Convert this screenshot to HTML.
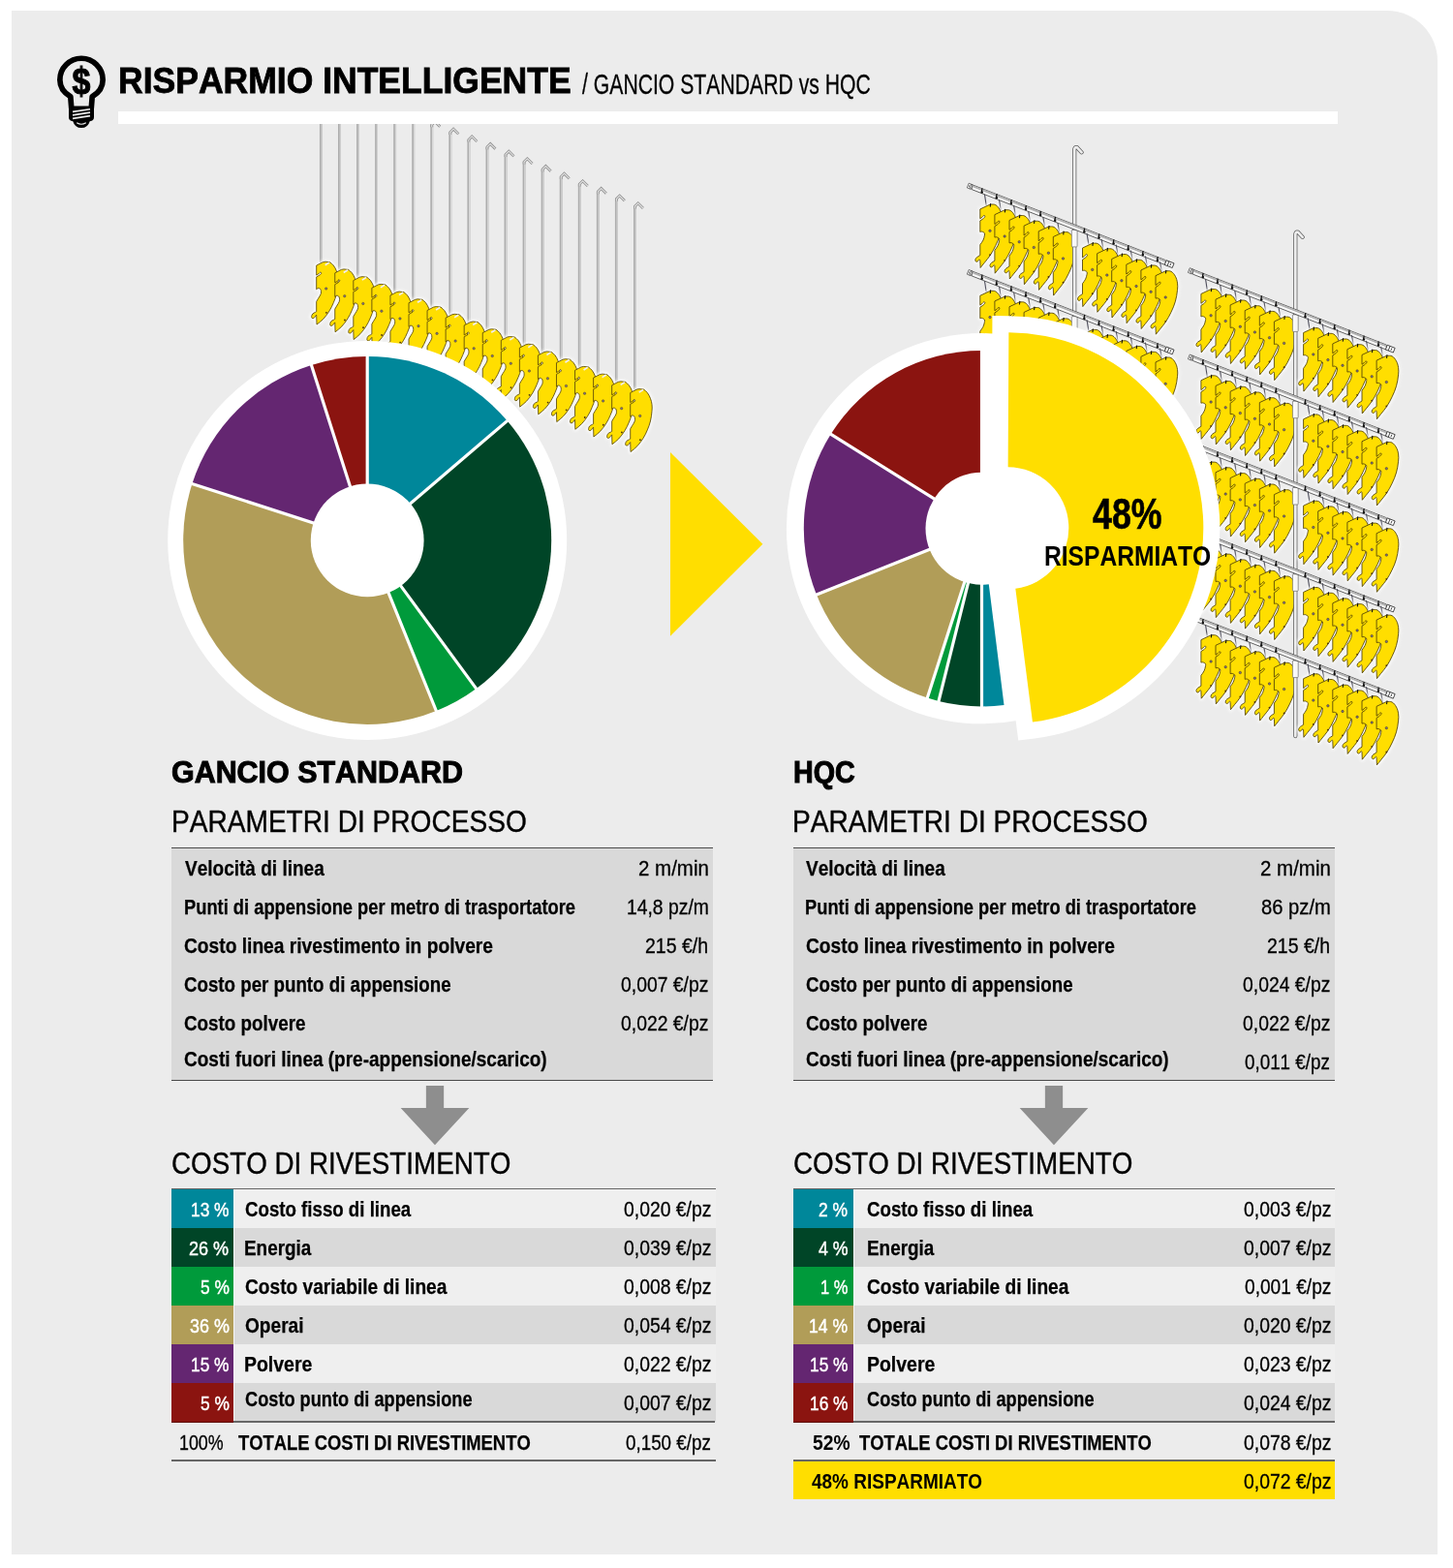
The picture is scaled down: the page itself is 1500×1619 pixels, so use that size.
<!DOCTYPE html>
<html lang="it"><head><meta charset="utf-8"><title>Risparmio intelligente / Gancio standard vs HQC</title>
<style>
html,body{margin:0;padding:0;background:#fff}
body{width:1500px;height:1619px;position:relative;overflow:hidden;font-family:"Liberation Sans",sans-serif;color:#000;font-kerning:none}
#panel{position:absolute;left:11.6px;top:10.8px;width:1472.6px;height:1594.4px;background:#ececec;border-top-right-radius:52px}
#art{position:absolute;left:0;top:0}
.t{position:absolute;white-space:pre;line-height:1;transform-origin:0 0;display:block}
.b{font-weight:700}.r{font-weight:400}
#bar{position:absolute;left:122px;top:114.5px;width:1259px;height:13.5px;background:#fff}
.pbox{position:absolute;background:#d9d9d9;border-top:1.4px solid #4a4a4a;border-bottom:1.6px solid #4a4a4a;box-sizing:border-box}
.ln{position:absolute;height:1.5px;background:#666}
.row{position:absolute}
.row i{position:absolute;left:0;top:0;height:100%;border-right:1.6px solid #f6f6f6}
.arr{position:absolute}
.sv{position:absolute;background:#ffde00}
</style></head><body>
<div id="panel"></div>
<svg id="art" width="1500" height="1619" viewBox="0 0 1500 1619">
<defs>
<filter id="hb" x="-5%" y="-5%" width="110%" height="110%"><feGaussianBlur stdDeviation="1.600"/></filter>
<path id="pth" d="M0 3.9L6.6 0.5L9.2 0L13.9 0.5C15.12 1.62 16.52 2.45 17.6 3.9C19.01 5.8 19.84 7.49 20.7 9.7C21.55 11.88 22.02 13.68 22.3 16C22.6 18.43 22.52 20.36 22.3 22.8C21.95 26.64 21.6 29.65 20.7 33.4C19.91 36.7 18.92 39.17 17.6 42.3C16.29 45.41 15.19 47.83 13.4 50.7C11.4 53.91 9.66 56.32 7.1 59.1C4.92 61.46 2.54 62.99 0.3 64.9L0 55C-0.43 55.49 -0.85 55.94 -1.3 56.5C-1.72 57.02 -1.82 57.67 -2.4 58C-3.07 58.37 -3.84 58.68 -4.5 58.3C-5.08 57.96 -5.09 57.17 -5 56.5C-4.86 55.46 -4.59 54.59 -3.9 53.8C-3.19 52.99 -2.23 52.85 -1.3 52.3C-0.83 52.02 -0.43 51.76 0 51.5L0 41.2C0.59 40.18 1.16 39.22 1.8 38.1C2.78 36.41 3.83 35.23 4.5 33.4C4.9 32.32 4.83 31.35 4.7 30.2C4.61 29.4 4.47 28.67 3.9 28.1C3.33 27.53 2.6 27.2 1.8 27.3C1.01 27.4 0.59 28.17 0 28.6L0 15.7C0.73 15.3 1.42 14.95 2.2 14.5C2.79 14.16 3.26 13.91 3.8 13.5C4.2 13.19 4.56 12.95 4.8 12.5C4.98 12.15 5.06 11.76 4.9 11.4C4.76 11.09 4.44 10.88 4.1 10.9C3.71 10.92 3.49 11.25 3.2 11.5C2.7 11.93 2.43 12.4 1.9 12.8C1.27 13.27 0.63 13.54 0 13.9L0 3.9Z" fill="#fff" stroke="#fff" stroke-width="4" stroke-linejoin="round"/>
<g id="pt"><path d="M0 3.9L6.6 0.5L9.2 0L13.9 0.5C15.12 1.62 16.52 2.45 17.6 3.9C19.01 5.8 19.84 7.49 20.7 9.7C21.55 11.88 22.02 13.68 22.3 16C22.6 18.43 22.52 20.36 22.3 22.8C21.95 26.64 21.6 29.65 20.7 33.4C19.91 36.7 18.92 39.17 17.6 42.3C16.29 45.41 15.19 47.83 13.4 50.7C11.4 53.91 9.66 56.32 7.1 59.1C4.92 61.46 2.54 62.99 0.3 64.9L0 55C-0.43 55.49 -0.85 55.94 -1.3 56.5C-1.72 57.02 -1.82 57.67 -2.4 58C-3.07 58.37 -3.84 58.68 -4.5 58.3C-5.08 57.96 -5.09 57.17 -5 56.5C-4.86 55.46 -4.59 54.59 -3.9 53.8C-3.19 52.99 -2.23 52.85 -1.3 52.3C-0.83 52.02 -0.43 51.76 0 51.5L0 41.2C0.59 40.18 1.16 39.22 1.8 38.1C2.78 36.41 3.83 35.23 4.5 33.4C4.9 32.32 4.83 31.35 4.7 30.2C4.61 29.4 4.47 28.67 3.9 28.1C3.33 27.53 2.6 27.2 1.8 27.3C1.01 27.4 0.59 28.17 0 28.6L0 15.7C0.73 15.3 1.42 14.95 2.2 14.5C2.79 14.16 3.26 13.91 3.8 13.5C4.2 13.19 4.56 12.95 4.8 12.5C4.98 12.15 5.06 11.76 4.9 11.4C4.76 11.09 4.44 10.88 4.1 10.9C3.71 10.92 3.49 11.25 3.2 11.5C2.7 11.93 2.43 12.4 1.9 12.8C1.27 13.27 0.63 13.54 0 13.9L0 3.9Z" fill="#ffde00" stroke="#574708" stroke-width=".85" stroke-linejoin="round"/><circle cx="10" cy="27.800" r="1.250" fill="#7d6f86" stroke="#574708" stroke-width=".45"/><circle cx="10.2" cy="52.6" r=".9" fill="#4a3010"/><path d="M9 3.500l4.200 -2.600" stroke="#efecf6" stroke-width="1.700"/></g>
<path id="p2h" d="M0 5.25L10.5 0.3C12.31 0.5 14.27 -0.08 16 0.9C18.09 2.08 19.24 3.8 20.4 5.9C21.64 8.14 22.12 10.17 22.5 12.7C22.89 15.3 22.79 17.39 22.5 20C22.03 24.29 21.58 27.65 20.4 31.8C19.23 35.94 17.83 39.01 16 42.9C14.26 46.59 12.73 49.39 10.5 52.8C8.51 55.85 6.55 57.93 4.3 60.8C2.88 62.61 1.62 64.15 0.3 65.8L0 58.4C-0.2 58 -0.12 57.15 -0.6 57.2C-1.28 57.27 -1.36 58.18 -1.9 58.6C-2.49 59.05 -2.96 59.65 -3.7 59.6C-4.31 59.56 -4.8 59 -4.9 58.4C-5.05 57.49 -4.82 56.66 -4.3 55.9C-3.68 54.99 -2.79 54.64 -1.9 54C-1.24 53.53 -0.63 53.2 0 52.8L0 42C1.02 40.48 2.24 39.2 3.1 37.4C3.91 35.71 4.23 34.24 4.6 32.4C4.77 31.55 4.95 30.79 4.6 30C4.34 29.41 3.66 29.33 3.1 29C2.68 28.75 2.38 28.45 1.9 28.4C1.21 28.33 0.63 28.6 0 28.7L0 17.2C0.83 16.67 1.64 16.24 2.5 15.6C3.2 15.08 3.73 14.66 4.3 14C4.65 13.6 4.93 13.23 5 12.7C5.05 12.35 4.92 11.96 4.6 11.8C4.27 11.64 3.9 11.79 3.6 12C2.93 12.46 2.62 13.07 2 13.6C1.32 14.19 0.66 14.61 0 15.1L0 5.25Z" fill="#fff" stroke="#fff" stroke-width="4" stroke-linejoin="round"/>
<g id="p2"><path d="M0 5.25L10.5 0.3C12.31 0.5 14.27 -0.08 16 0.9C18.09 2.08 19.24 3.8 20.4 5.9C21.64 8.14 22.12 10.17 22.5 12.7C22.89 15.3 22.79 17.39 22.5 20C22.03 24.29 21.58 27.65 20.4 31.8C19.23 35.94 17.83 39.01 16 42.9C14.26 46.59 12.73 49.39 10.5 52.8C8.51 55.85 6.55 57.93 4.3 60.8C2.88 62.61 1.62 64.15 0.3 65.8L0 58.4C-0.2 58 -0.12 57.15 -0.6 57.2C-1.28 57.27 -1.36 58.18 -1.9 58.6C-2.49 59.05 -2.96 59.65 -3.7 59.6C-4.31 59.56 -4.8 59 -4.9 58.4C-5.05 57.49 -4.82 56.66 -4.3 55.9C-3.68 54.99 -2.79 54.64 -1.9 54C-1.24 53.53 -0.63 53.2 0 52.8L0 42C1.02 40.48 2.24 39.2 3.1 37.4C3.91 35.71 4.23 34.24 4.6 32.4C4.77 31.55 4.95 30.79 4.6 30C4.34 29.41 3.66 29.33 3.1 29C2.68 28.75 2.38 28.45 1.9 28.4C1.21 28.33 0.63 28.6 0 28.7L0 17.2C0.83 16.67 1.64 16.24 2.5 15.6C3.2 15.08 3.73 14.66 4.3 14C4.65 13.6 4.93 13.23 5 12.7C5.05 12.35 4.92 11.96 4.6 11.8C4.27 11.64 3.9 11.79 3.6 12C2.93 12.46 2.62 13.07 2 13.6C1.32 14.19 0.66 14.61 0 15.1L0 5.25Z" fill="#ffde00" stroke="#4d3f06" stroke-width=".85" stroke-linejoin="round"/><circle cx="10.200" cy="27.600" r="1.250" fill="#7d6f86" stroke="#3a3010" stroke-width=".45"/><circle cx="10.2" cy="52.4" r=".9" fill="#4a3010"/><path d="M10.9 -.6l-.5 3.600" stroke="#111" stroke-width="1.100"/></g>
<g id="cap"><path d="M0 -2.500h8.500v5h-8.500z" fill="#fff" stroke="#333" stroke-width=".8"/><path d="M3 -2.500v5M5.500 -1.300v2.600" stroke="#333" stroke-width=".8" fill="none"/></g>
</defs>
<clipPath id="cl"><rect x="0" y="127" width="1500" height="1500"/></clipPath>
<g clip-path="url(#cl)">
<g id="std-hooks">
<path d="M331.40 271.2V82.9" fill="none" stroke="#adadad" stroke-width="2.900"/>
<path d="M331.40 271.2V82.9" fill="none" stroke="#d9d9d9" stroke-width="1.100" transform="translate(.7 0)"/>
<path d="M331.40 85.3V82.9L334.70 79.6L339.90 84.8" fill="none" stroke="#8c8c8c" stroke-width="2.700" stroke-linejoin="miter"/>
<path d="M331.40 85.3V82.9L334.70 79.6L339.90 84.8" fill="none" stroke="#e2e2e2" stroke-width="1.200"/>
<path d="M350.46 278.9V90.5" fill="none" stroke="#adadad" stroke-width="2.900"/>
<path d="M350.46 278.9V90.5" fill="none" stroke="#d9d9d9" stroke-width="1.100" transform="translate(.7 0)"/>
<path d="M350.46 92.9V90.5L353.76 87.2L358.96 92.4" fill="none" stroke="#8c8c8c" stroke-width="2.700" stroke-linejoin="miter"/>
<path d="M350.46 92.9V90.5L353.76 87.2L358.96 92.4" fill="none" stroke="#e2e2e2" stroke-width="1.200"/>
<path d="M369.52 286.7V98.2" fill="none" stroke="#adadad" stroke-width="2.900"/>
<path d="M369.52 286.7V98.2" fill="none" stroke="#d9d9d9" stroke-width="1.100" transform="translate(.7 0)"/>
<path d="M369.52 100.6V98.2L372.82 94.9L378.02 100.1" fill="none" stroke="#8c8c8c" stroke-width="2.700" stroke-linejoin="miter"/>
<path d="M369.52 100.6V98.2L372.82 94.9L378.02 100.1" fill="none" stroke="#e2e2e2" stroke-width="1.200"/>
<path d="M388.58 294.4V105.9" fill="none" stroke="#adadad" stroke-width="2.900"/>
<path d="M388.58 294.4V105.9" fill="none" stroke="#d9d9d9" stroke-width="1.100" transform="translate(.7 0)"/>
<path d="M388.58 108.3V105.9L391.88 102.6L397.08 107.8" fill="none" stroke="#8c8c8c" stroke-width="2.700" stroke-linejoin="miter"/>
<path d="M388.58 108.3V105.9L391.88 102.6L397.08 107.8" fill="none" stroke="#e2e2e2" stroke-width="1.200"/>
<path d="M407.64 302.1V113.5" fill="none" stroke="#adadad" stroke-width="2.900"/>
<path d="M407.64 302.1V113.5" fill="none" stroke="#d9d9d9" stroke-width="1.100" transform="translate(.7 0)"/>
<path d="M407.64 115.9V113.5L410.94 110.2L416.14 115.4" fill="none" stroke="#8c8c8c" stroke-width="2.700" stroke-linejoin="miter"/>
<path d="M407.64 115.9V113.5L410.94 110.2L416.14 115.4" fill="none" stroke="#e2e2e2" stroke-width="1.200"/>
<path d="M426.70 309.8V121.2" fill="none" stroke="#adadad" stroke-width="2.900"/>
<path d="M426.70 309.8V121.2" fill="none" stroke="#d9d9d9" stroke-width="1.100" transform="translate(.7 0)"/>
<path d="M426.70 123.6V121.2L430.00 117.9L435.20 123.1" fill="none" stroke="#8c8c8c" stroke-width="2.700" stroke-linejoin="miter"/>
<path d="M426.70 123.6V121.2L430.00 117.9L435.20 123.1" fill="none" stroke="#e2e2e2" stroke-width="1.200"/>
<path d="M445.76 317.6V128.8" fill="none" stroke="#adadad" stroke-width="2.900"/>
<path d="M445.76 317.6V128.8" fill="none" stroke="#d9d9d9" stroke-width="1.100" transform="translate(.7 0)"/>
<path d="M445.76 131.2V128.8L449.06 125.5L454.26 130.7" fill="none" stroke="#8c8c8c" stroke-width="2.700" stroke-linejoin="miter"/>
<path d="M445.76 131.2V128.8L449.06 125.5L454.26 130.7" fill="none" stroke="#e2e2e2" stroke-width="1.200"/>
<path d="M464.82 325.3V136.5" fill="none" stroke="#adadad" stroke-width="2.900"/>
<path d="M464.82 325.3V136.5" fill="none" stroke="#d9d9d9" stroke-width="1.100" transform="translate(.7 0)"/>
<path d="M464.82 138.9V136.5L468.12 133.2L473.32 138.4" fill="none" stroke="#8c8c8c" stroke-width="2.700" stroke-linejoin="miter"/>
<path d="M464.82 138.9V136.5L468.12 133.2L473.32 138.4" fill="none" stroke="#e2e2e2" stroke-width="1.200"/>
<path d="M483.88 333.0V144.2" fill="none" stroke="#adadad" stroke-width="2.900"/>
<path d="M483.88 333.0V144.2" fill="none" stroke="#d9d9d9" stroke-width="1.100" transform="translate(.7 0)"/>
<path d="M483.88 146.6V144.2L487.18 140.9L492.38 146.1" fill="none" stroke="#8c8c8c" stroke-width="2.700" stroke-linejoin="miter"/>
<path d="M483.88 146.6V144.2L487.18 140.9L492.38 146.1" fill="none" stroke="#e2e2e2" stroke-width="1.200"/>
<path d="M502.94 340.8V151.8" fill="none" stroke="#adadad" stroke-width="2.900"/>
<path d="M502.94 340.8V151.8" fill="none" stroke="#d9d9d9" stroke-width="1.100" transform="translate(.7 0)"/>
<path d="M502.94 154.2V151.8L506.24 148.5L511.44 153.7" fill="none" stroke="#8c8c8c" stroke-width="2.700" stroke-linejoin="miter"/>
<path d="M502.94 154.2V151.8L506.24 148.5L511.44 153.7" fill="none" stroke="#e2e2e2" stroke-width="1.200"/>
<path d="M522.00 348.5V159.5" fill="none" stroke="#adadad" stroke-width="2.900"/>
<path d="M522.00 348.5V159.5" fill="none" stroke="#d9d9d9" stroke-width="1.100" transform="translate(.7 0)"/>
<path d="M522.00 161.9V159.5L525.30 156.2L530.50 161.4" fill="none" stroke="#8c8c8c" stroke-width="2.700" stroke-linejoin="miter"/>
<path d="M522.00 161.9V159.5L525.30 156.2L530.50 161.4" fill="none" stroke="#e2e2e2" stroke-width="1.200"/>
<path d="M541.06 356.2V167.1" fill="none" stroke="#adadad" stroke-width="2.900"/>
<path d="M541.06 356.2V167.1" fill="none" stroke="#d9d9d9" stroke-width="1.100" transform="translate(.7 0)"/>
<path d="M541.06 169.5V167.1L544.36 163.8L549.56 169.0" fill="none" stroke="#8c8c8c" stroke-width="2.700" stroke-linejoin="miter"/>
<path d="M541.06 169.5V167.1L544.36 163.8L549.56 169.0" fill="none" stroke="#e2e2e2" stroke-width="1.200"/>
<path d="M560.12 364.0V174.8" fill="none" stroke="#adadad" stroke-width="2.900"/>
<path d="M560.12 364.0V174.8" fill="none" stroke="#d9d9d9" stroke-width="1.100" transform="translate(.7 0)"/>
<path d="M560.12 177.2V174.8L563.42 171.5L568.62 176.7" fill="none" stroke="#8c8c8c" stroke-width="2.700" stroke-linejoin="miter"/>
<path d="M560.12 177.2V174.8L563.42 171.5L568.62 176.7" fill="none" stroke="#e2e2e2" stroke-width="1.200"/>
<path d="M579.18 371.7V182.5" fill="none" stroke="#adadad" stroke-width="2.900"/>
<path d="M579.18 371.7V182.5" fill="none" stroke="#d9d9d9" stroke-width="1.100" transform="translate(.7 0)"/>
<path d="M579.18 184.9V182.5L582.48 179.2L587.68 184.4" fill="none" stroke="#8c8c8c" stroke-width="2.700" stroke-linejoin="miter"/>
<path d="M579.18 184.9V182.5L582.48 179.2L587.68 184.4" fill="none" stroke="#e2e2e2" stroke-width="1.200"/>
<path d="M598.24 379.4V190.1" fill="none" stroke="#adadad" stroke-width="2.900"/>
<path d="M598.24 379.4V190.1" fill="none" stroke="#d9d9d9" stroke-width="1.100" transform="translate(.7 0)"/>
<path d="M598.24 192.5V190.1L601.54 186.8L606.74 192.0" fill="none" stroke="#8c8c8c" stroke-width="2.700" stroke-linejoin="miter"/>
<path d="M598.24 192.5V190.1L601.54 186.8L606.74 192.0" fill="none" stroke="#e2e2e2" stroke-width="1.200"/>
<path d="M617.30 387.1V197.8" fill="none" stroke="#adadad" stroke-width="2.900"/>
<path d="M617.30 387.1V197.8" fill="none" stroke="#d9d9d9" stroke-width="1.100" transform="translate(.7 0)"/>
<path d="M617.30 200.2V197.8L620.60 194.5L625.80 199.7" fill="none" stroke="#8c8c8c" stroke-width="2.700" stroke-linejoin="miter"/>
<path d="M617.30 200.2V197.8L620.60 194.5L625.80 199.7" fill="none" stroke="#e2e2e2" stroke-width="1.200"/>
<path d="M636.36 394.9V205.4" fill="none" stroke="#adadad" stroke-width="2.900"/>
<path d="M636.36 394.9V205.4" fill="none" stroke="#d9d9d9" stroke-width="1.100" transform="translate(.7 0)"/>
<path d="M636.36 207.8V205.4L639.66 202.1L644.86 207.3" fill="none" stroke="#8c8c8c" stroke-width="2.700" stroke-linejoin="miter"/>
<path d="M636.36 207.8V205.4L639.66 202.1L644.86 207.3" fill="none" stroke="#e2e2e2" stroke-width="1.200"/>
<path d="M655.42 402.6V213.1" fill="none" stroke="#adadad" stroke-width="2.900"/>
<path d="M655.42 402.6V213.1" fill="none" stroke="#d9d9d9" stroke-width="1.100" transform="translate(.7 0)"/>
<path d="M655.42 215.5V213.1L658.72 209.8L663.92 215.0" fill="none" stroke="#8c8c8c" stroke-width="2.700" stroke-linejoin="miter"/>
<path d="M655.42 215.5V213.1L658.72 209.8L663.92 215.0" fill="none" stroke="#e2e2e2" stroke-width="1.200"/>
<g filter="url(#hb)" opacity=".8">
<use href="#pth" x="326.70" y="270.19"/>
<use href="#pth" x="345.76" y="277.92"/>
<use href="#pth" x="364.82" y="285.65"/>
<use href="#pth" x="383.88" y="293.38"/>
<use href="#pth" x="402.94" y="301.11"/>
<use href="#pth" x="422.00" y="308.84"/>
<use href="#pth" x="441.06" y="316.57"/>
<use href="#pth" x="460.12" y="324.30"/>
<use href="#pth" x="479.18" y="332.03"/>
<use href="#pth" x="498.24" y="339.76"/>
<use href="#pth" x="517.30" y="347.49"/>
<use href="#pth" x="536.36" y="355.22"/>
<use href="#pth" x="555.42" y="362.95"/>
<use href="#pth" x="574.48" y="370.68"/>
<use href="#pth" x="593.54" y="378.41"/>
<use href="#pth" x="612.60" y="386.14"/>
<use href="#pth" x="631.66" y="393.87"/>
<use href="#pth" x="650.72" y="401.60"/>
</g>
<use href="#pt" x="326.70" y="270.19"/>
<use href="#pt" x="345.76" y="277.92"/>
<use href="#pt" x="364.82" y="285.65"/>
<use href="#pt" x="383.88" y="293.38"/>
<use href="#pt" x="402.94" y="301.11"/>
<use href="#pt" x="422.00" y="308.84"/>
<use href="#pt" x="441.06" y="316.57"/>
<use href="#pt" x="460.12" y="324.30"/>
<use href="#pt" x="479.18" y="332.03"/>
<use href="#pt" x="498.24" y="339.76"/>
<use href="#pt" x="517.30" y="347.49"/>
<use href="#pt" x="536.36" y="355.22"/>
<use href="#pt" x="555.42" y="362.95"/>
<use href="#pt" x="574.48" y="370.68"/>
<use href="#pt" x="593.54" y="378.41"/>
<use href="#pt" x="612.60" y="386.14"/>
<use href="#pt" x="631.66" y="393.87"/>
<use href="#pt" x="650.72" y="401.60"/>
</g>
</g>
<g id="rack-a">
<path d="M1016.3 199.7L1018.2 212.2" stroke="#4e4e5c" stroke-width="1.100"/>
<path d="M1031.4 205.5L1033.3 217.9" stroke="#4e4e5c" stroke-width="1.100"/>
<path d="M1046.5 211.4L1048.4 223.7" stroke="#4e4e5c" stroke-width="1.100"/>
<path d="M1061.6 217.3L1063.5 229.4" stroke="#4e4e5c" stroke-width="1.100"/>
<path d="M1076.7 223.2L1078.6 235.1" stroke="#4e4e5c" stroke-width="1.100"/>
<path d="M1091.8 229.1L1093.7 240.8" stroke="#4e4e5c" stroke-width="1.100"/>
<g filter="url(#hb)" opacity=".8">
<use href="#p2h" x="1011.8" y="210.7"/>
<use href="#p2h" x="1026.9" y="216.4"/>
<use href="#p2h" x="1042.0" y="222.2"/>
<use href="#p2h" x="1057.1" y="227.9"/>
<use href="#p2h" x="1072.2" y="233.6"/>
<use href="#p2h" x="1087.3" y="239.3"/>
</g>
<use href="#p2" x="1011.8" y="210.7"/>
<use href="#p2" x="1026.9" y="216.4"/>
<use href="#p2" x="1042.0" y="222.2"/>
<use href="#p2" x="1057.1" y="227.9"/>
<use href="#p2" x="1072.2" y="233.6"/>
<use href="#p2" x="1087.3" y="239.3"/>
<path d="M1016.3 289.0L1018.2 301.5" stroke="#4e4e5c" stroke-width="1.100"/>
<path d="M1031.4 294.8L1033.3 307.2" stroke="#4e4e5c" stroke-width="1.100"/>
<path d="M1046.5 300.7L1048.4 313.0" stroke="#4e4e5c" stroke-width="1.100"/>
<path d="M1061.6 306.6L1063.5 318.7" stroke="#4e4e5c" stroke-width="1.100"/>
<path d="M1076.7 312.5L1078.6 324.4" stroke="#4e4e5c" stroke-width="1.100"/>
<path d="M1091.8 318.4L1093.7 330.1" stroke="#4e4e5c" stroke-width="1.100"/>
<g filter="url(#hb)" opacity=".8">
<use href="#p2h" x="1011.8" y="300.0"/>
<use href="#p2h" x="1026.9" y="305.7"/>
<use href="#p2h" x="1042.0" y="311.5"/>
<use href="#p2h" x="1057.1" y="317.2"/>
<use href="#p2h" x="1072.2" y="322.9"/>
<use href="#p2h" x="1087.3" y="328.6"/>
</g>
<use href="#p2" x="1011.8" y="300.0"/>
<use href="#p2" x="1026.9" y="305.7"/>
<use href="#p2" x="1042.0" y="311.5"/>
<use href="#p2" x="1057.1" y="317.2"/>
<use href="#p2" x="1072.2" y="322.9"/>
<use href="#p2" x="1087.3" y="328.6"/>
<path d="M1016.3 378.3L1018.2 390.8" stroke="#4e4e5c" stroke-width="1.100"/>
<path d="M1031.4 384.1L1033.3 396.5" stroke="#4e4e5c" stroke-width="1.100"/>
<path d="M1046.5 390.0L1048.4 402.3" stroke="#4e4e5c" stroke-width="1.100"/>
<path d="M1061.6 395.9L1063.5 408.0" stroke="#4e4e5c" stroke-width="1.100"/>
<path d="M1076.7 401.8L1078.6 413.7" stroke="#4e4e5c" stroke-width="1.100"/>
<path d="M1091.8 407.7L1093.7 419.4" stroke="#4e4e5c" stroke-width="1.100"/>
<g filter="url(#hb)" opacity=".8">
<use href="#p2h" x="1011.8" y="389.3"/>
<use href="#p2h" x="1026.9" y="395.0"/>
<use href="#p2h" x="1042.0" y="400.8"/>
<use href="#p2h" x="1057.1" y="406.5"/>
<use href="#p2h" x="1072.2" y="412.2"/>
<use href="#p2h" x="1087.3" y="417.9"/>
</g>
<use href="#p2" x="1011.8" y="389.3"/>
<use href="#p2" x="1026.9" y="395.0"/>
<use href="#p2" x="1042.0" y="400.8"/>
<use href="#p2" x="1057.1" y="406.5"/>
<use href="#p2" x="1072.2" y="412.2"/>
<use href="#p2" x="1087.3" y="417.9"/>
<path d="M1016.3 467.6L1018.2 480.1" stroke="#4e4e5c" stroke-width="1.100"/>
<path d="M1031.4 473.4L1033.3 485.8" stroke="#4e4e5c" stroke-width="1.100"/>
<path d="M1046.5 479.3L1048.4 491.6" stroke="#4e4e5c" stroke-width="1.100"/>
<path d="M1061.6 485.2L1063.5 497.3" stroke="#4e4e5c" stroke-width="1.100"/>
<path d="M1076.7 491.1L1078.6 503.0" stroke="#4e4e5c" stroke-width="1.100"/>
<path d="M1091.8 497.0L1093.7 508.7" stroke="#4e4e5c" stroke-width="1.100"/>
<g filter="url(#hb)" opacity=".8">
<use href="#p2h" x="1011.8" y="478.6"/>
<use href="#p2h" x="1026.9" y="484.3"/>
<use href="#p2h" x="1042.0" y="490.1"/>
<use href="#p2h" x="1057.1" y="495.8"/>
<use href="#p2h" x="1072.2" y="501.5"/>
<use href="#p2h" x="1087.3" y="507.2"/>
</g>
<use href="#p2" x="1011.8" y="478.6"/>
<use href="#p2" x="1026.9" y="484.3"/>
<use href="#p2" x="1042.0" y="490.1"/>
<use href="#p2" x="1057.1" y="495.8"/>
<use href="#p2" x="1072.2" y="501.5"/>
<use href="#p2" x="1087.3" y="507.2"/>
<path d="M1109.2 583.3V154.9q0 -3.600 2.800 -2.600l4.600 5" fill="none" stroke="#5c5c5c" stroke-width="4.200" stroke-linecap="round" stroke-linejoin="round"/>
<path d="M1109.2 583.3V154.9q0 -3.600 2.800 -2.600l4.600 5" fill="none" stroke="#ededed" stroke-width="2.700" stroke-linecap="round" stroke-linejoin="round"/>
<rect x="1106.3" y="237.4" width="5.800" height="17.500" rx=".8" fill="#f8f8f8" stroke="#6a6a6a" stroke-width=".7"/>
<rect x="1106.3" y="326.7" width="5.800" height="17.500" rx=".8" fill="#f8f8f8" stroke="#6a6a6a" stroke-width=".7"/>
<rect x="1106.3" y="416.0" width="5.800" height="17.500" rx=".8" fill="#f8f8f8" stroke="#6a6a6a" stroke-width=".7"/>
<rect x="1106.3" y="505.3" width="5.800" height="17.500" rx=".8" fill="#f8f8f8" stroke="#6a6a6a" stroke-width=".7"/>
<path d="M1003.2 190.6L1203.2 268.6v5L1003.2 195.6Z" fill="#fbfbfb" stroke="#3c3c3c" stroke-width=".8"/>
<path d="M1003.2 191.9L1203.2 269.9" stroke="#b4b4b4" stroke-width="1.900"/>
<use href="#cap" transform="translate(1203.2 271.1) rotate(21.3)"/>
<use href="#cap" transform="translate(1003.2 193.1) rotate(21.3) scale(-.5 1)"/>
<path d="M1014.0 194.4l-.6 3.600" stroke="#111" stroke-width="1.300"/><circle cx="1013.7" cy="198.4" r="1.250" fill="#111"/>
<path d="M1029.1 200.2l-.6 3.600" stroke="#111" stroke-width="1.300"/><circle cx="1028.8" cy="204.2" r="1.250" fill="#111"/>
<path d="M1044.2 206.1l-.6 3.600" stroke="#111" stroke-width="1.300"/><circle cx="1043.9" cy="210.1" r="1.250" fill="#111"/>
<path d="M1059.3 212.0l-.6 3.600" stroke="#111" stroke-width="1.300"/><circle cx="1059.0" cy="216.0" r="1.250" fill="#111"/>
<path d="M1074.4 217.9l-.6 3.600" stroke="#111" stroke-width="1.300"/><circle cx="1074.1" cy="221.9" r="1.250" fill="#111"/>
<path d="M1089.5 223.8l-.6 3.600" stroke="#111" stroke-width="1.300"/><circle cx="1089.2" cy="227.8" r="1.250" fill="#111"/>
<path d="M1119.7 235.6l-.6 3.600" stroke="#111" stroke-width="1.300"/><circle cx="1119.4" cy="239.6" r="1.250" fill="#111"/>
<path d="M1134.8 241.5l-.6 3.600" stroke="#111" stroke-width="1.300"/><circle cx="1134.5" cy="245.5" r="1.250" fill="#111"/>
<path d="M1149.9 247.4l-.6 3.600" stroke="#111" stroke-width="1.300"/><circle cx="1149.6" cy="251.4" r="1.250" fill="#111"/>
<path d="M1165.0 253.2l-.6 3.600" stroke="#111" stroke-width="1.300"/><circle cx="1164.7" cy="257.2" r="1.250" fill="#111"/>
<path d="M1180.1 259.1l-.6 3.600" stroke="#111" stroke-width="1.300"/><circle cx="1179.8" cy="263.1" r="1.250" fill="#111"/>
<path d="M1195.2 265.0l-.6 3.600" stroke="#111" stroke-width="1.300"/><circle cx="1194.9" cy="269.0" r="1.250" fill="#111"/>
<path d="M1122.0 240.9L1123.9 252.3" stroke="#4e4e5c" stroke-width="1.100"/>
<path d="M1137.1 246.8L1139.0 258.0" stroke="#4e4e5c" stroke-width="1.100"/>
<path d="M1152.2 252.7L1154.1 263.7" stroke="#4e4e5c" stroke-width="1.100"/>
<path d="M1167.3 258.5L1169.2 269.4" stroke="#4e4e5c" stroke-width="1.100"/>
<path d="M1182.4 264.4L1184.3 275.2" stroke="#4e4e5c" stroke-width="1.100"/>
<path d="M1197.5 270.3L1199.4 280.9" stroke="#4e4e5c" stroke-width="1.100"/>
<g filter="url(#hb)" opacity=".8">
<use href="#p2h" x="1117.5" y="250.8"/>
<use href="#p2h" x="1132.6" y="256.5"/>
<use href="#p2h" x="1147.7" y="262.2"/>
<use href="#p2h" x="1162.8" y="267.9"/>
<use href="#p2h" x="1177.9" y="273.7"/>
<use href="#p2h" x="1193.0" y="279.4"/>
</g>
<use href="#p2" x="1117.5" y="250.8"/>
<use href="#p2" x="1132.6" y="256.5"/>
<use href="#p2" x="1147.7" y="262.2"/>
<use href="#p2" x="1162.8" y="267.9"/>
<use href="#p2" x="1177.9" y="273.7"/>
<use href="#p2" x="1193.0" y="279.4"/>
<path d="M1003.2 279.9L1203.2 357.9v5L1003.2 284.9Z" fill="#fbfbfb" stroke="#3c3c3c" stroke-width=".8"/>
<path d="M1003.2 281.2L1203.2 359.2" stroke="#b4b4b4" stroke-width="1.900"/>
<use href="#cap" transform="translate(1203.2 360.4) rotate(21.3)"/>
<use href="#cap" transform="translate(1003.2 282.4) rotate(21.3) scale(-.5 1)"/>
<path d="M1014.0 283.7l-.6 3.600" stroke="#111" stroke-width="1.300"/><circle cx="1013.7" cy="287.7" r="1.250" fill="#111"/>
<path d="M1029.1 289.5l-.6 3.600" stroke="#111" stroke-width="1.300"/><circle cx="1028.8" cy="293.5" r="1.250" fill="#111"/>
<path d="M1044.2 295.4l-.6 3.600" stroke="#111" stroke-width="1.300"/><circle cx="1043.9" cy="299.4" r="1.250" fill="#111"/>
<path d="M1059.3 301.3l-.6 3.600" stroke="#111" stroke-width="1.300"/><circle cx="1059.0" cy="305.3" r="1.250" fill="#111"/>
<path d="M1074.4 307.2l-.6 3.600" stroke="#111" stroke-width="1.300"/><circle cx="1074.1" cy="311.2" r="1.250" fill="#111"/>
<path d="M1089.5 313.1l-.6 3.600" stroke="#111" stroke-width="1.300"/><circle cx="1089.2" cy="317.1" r="1.250" fill="#111"/>
<path d="M1119.7 324.9l-.6 3.600" stroke="#111" stroke-width="1.300"/><circle cx="1119.4" cy="328.9" r="1.250" fill="#111"/>
<path d="M1134.8 330.8l-.6 3.600" stroke="#111" stroke-width="1.300"/><circle cx="1134.5" cy="334.8" r="1.250" fill="#111"/>
<path d="M1149.9 336.7l-.6 3.600" stroke="#111" stroke-width="1.300"/><circle cx="1149.6" cy="340.7" r="1.250" fill="#111"/>
<path d="M1165.0 342.5l-.6 3.600" stroke="#111" stroke-width="1.300"/><circle cx="1164.7" cy="346.5" r="1.250" fill="#111"/>
<path d="M1180.1 348.4l-.6 3.600" stroke="#111" stroke-width="1.300"/><circle cx="1179.8" cy="352.4" r="1.250" fill="#111"/>
<path d="M1195.2 354.3l-.6 3.600" stroke="#111" stroke-width="1.300"/><circle cx="1194.9" cy="358.3" r="1.250" fill="#111"/>
<path d="M1122.0 330.2L1123.9 341.6" stroke="#4e4e5c" stroke-width="1.100"/>
<path d="M1137.1 336.1L1139.0 347.3" stroke="#4e4e5c" stroke-width="1.100"/>
<path d="M1152.2 342.0L1154.1 353.0" stroke="#4e4e5c" stroke-width="1.100"/>
<path d="M1167.3 347.8L1169.2 358.7" stroke="#4e4e5c" stroke-width="1.100"/>
<path d="M1182.4 353.7L1184.3 364.5" stroke="#4e4e5c" stroke-width="1.100"/>
<path d="M1197.5 359.6L1199.4 370.2" stroke="#4e4e5c" stroke-width="1.100"/>
<g filter="url(#hb)" opacity=".8">
<use href="#p2h" x="1117.5" y="340.1"/>
<use href="#p2h" x="1132.6" y="345.8"/>
<use href="#p2h" x="1147.7" y="351.5"/>
<use href="#p2h" x="1162.8" y="357.2"/>
<use href="#p2h" x="1177.9" y="363.0"/>
<use href="#p2h" x="1193.0" y="368.7"/>
</g>
<use href="#p2" x="1117.5" y="340.1"/>
<use href="#p2" x="1132.6" y="345.8"/>
<use href="#p2" x="1147.7" y="351.5"/>
<use href="#p2" x="1162.8" y="357.2"/>
<use href="#p2" x="1177.9" y="363.0"/>
<use href="#p2" x="1193.0" y="368.7"/>
<path d="M1003.2 369.2L1203.2 447.2v5L1003.2 374.2Z" fill="#fbfbfb" stroke="#3c3c3c" stroke-width=".8"/>
<path d="M1003.2 370.5L1203.2 448.5" stroke="#b4b4b4" stroke-width="1.900"/>
<use href="#cap" transform="translate(1203.2 449.7) rotate(21.3)"/>
<use href="#cap" transform="translate(1003.2 371.7) rotate(21.3) scale(-.5 1)"/>
<path d="M1014.0 373.0l-.6 3.600" stroke="#111" stroke-width="1.300"/><circle cx="1013.7" cy="377.0" r="1.250" fill="#111"/>
<path d="M1029.1 378.8l-.6 3.600" stroke="#111" stroke-width="1.300"/><circle cx="1028.8" cy="382.8" r="1.250" fill="#111"/>
<path d="M1044.2 384.7l-.6 3.600" stroke="#111" stroke-width="1.300"/><circle cx="1043.9" cy="388.7" r="1.250" fill="#111"/>
<path d="M1059.3 390.6l-.6 3.600" stroke="#111" stroke-width="1.300"/><circle cx="1059.0" cy="394.6" r="1.250" fill="#111"/>
<path d="M1074.4 396.5l-.6 3.600" stroke="#111" stroke-width="1.300"/><circle cx="1074.1" cy="400.5" r="1.250" fill="#111"/>
<path d="M1089.5 402.4l-.6 3.600" stroke="#111" stroke-width="1.300"/><circle cx="1089.2" cy="406.4" r="1.250" fill="#111"/>
<path d="M1119.7 414.2l-.6 3.600" stroke="#111" stroke-width="1.300"/><circle cx="1119.4" cy="418.2" r="1.250" fill="#111"/>
<path d="M1134.8 420.1l-.6 3.600" stroke="#111" stroke-width="1.300"/><circle cx="1134.5" cy="424.1" r="1.250" fill="#111"/>
<path d="M1149.9 426.0l-.6 3.600" stroke="#111" stroke-width="1.300"/><circle cx="1149.6" cy="430.0" r="1.250" fill="#111"/>
<path d="M1165.0 431.8l-.6 3.600" stroke="#111" stroke-width="1.300"/><circle cx="1164.7" cy="435.8" r="1.250" fill="#111"/>
<path d="M1180.1 437.7l-.6 3.600" stroke="#111" stroke-width="1.300"/><circle cx="1179.8" cy="441.7" r="1.250" fill="#111"/>
<path d="M1195.2 443.6l-.6 3.600" stroke="#111" stroke-width="1.300"/><circle cx="1194.9" cy="447.6" r="1.250" fill="#111"/>
<path d="M1122.0 419.5L1123.9 430.9" stroke="#4e4e5c" stroke-width="1.100"/>
<path d="M1137.1 425.4L1139.0 436.6" stroke="#4e4e5c" stroke-width="1.100"/>
<path d="M1152.2 431.3L1154.1 442.3" stroke="#4e4e5c" stroke-width="1.100"/>
<path d="M1167.3 437.1L1169.2 448.0" stroke="#4e4e5c" stroke-width="1.100"/>
<path d="M1182.4 443.0L1184.3 453.8" stroke="#4e4e5c" stroke-width="1.100"/>
<path d="M1197.5 448.9L1199.4 459.5" stroke="#4e4e5c" stroke-width="1.100"/>
<g filter="url(#hb)" opacity=".8">
<use href="#p2h" x="1117.5" y="429.4"/>
<use href="#p2h" x="1132.6" y="435.1"/>
<use href="#p2h" x="1147.7" y="440.8"/>
<use href="#p2h" x="1162.8" y="446.5"/>
<use href="#p2h" x="1177.9" y="452.3"/>
<use href="#p2h" x="1193.0" y="458.0"/>
</g>
<use href="#p2" x="1117.5" y="429.4"/>
<use href="#p2" x="1132.6" y="435.1"/>
<use href="#p2" x="1147.7" y="440.8"/>
<use href="#p2" x="1162.8" y="446.5"/>
<use href="#p2" x="1177.9" y="452.3"/>
<use href="#p2" x="1193.0" y="458.0"/>
<path d="M1003.2 458.5L1203.2 536.5v5L1003.2 463.5Z" fill="#fbfbfb" stroke="#3c3c3c" stroke-width=".8"/>
<path d="M1003.2 459.8L1203.2 537.8" stroke="#b4b4b4" stroke-width="1.900"/>
<use href="#cap" transform="translate(1203.2 539.0) rotate(21.3)"/>
<use href="#cap" transform="translate(1003.2 461.0) rotate(21.3) scale(-.5 1)"/>
<path d="M1014.0 462.3l-.6 3.600" stroke="#111" stroke-width="1.300"/><circle cx="1013.7" cy="466.3" r="1.250" fill="#111"/>
<path d="M1029.1 468.1l-.6 3.600" stroke="#111" stroke-width="1.300"/><circle cx="1028.8" cy="472.1" r="1.250" fill="#111"/>
<path d="M1044.2 474.0l-.6 3.600" stroke="#111" stroke-width="1.300"/><circle cx="1043.9" cy="478.0" r="1.250" fill="#111"/>
<path d="M1059.3 479.9l-.6 3.600" stroke="#111" stroke-width="1.300"/><circle cx="1059.0" cy="483.9" r="1.250" fill="#111"/>
<path d="M1074.4 485.8l-.6 3.600" stroke="#111" stroke-width="1.300"/><circle cx="1074.1" cy="489.8" r="1.250" fill="#111"/>
<path d="M1089.5 491.7l-.6 3.600" stroke="#111" stroke-width="1.300"/><circle cx="1089.2" cy="495.7" r="1.250" fill="#111"/>
<path d="M1119.7 503.5l-.6 3.600" stroke="#111" stroke-width="1.300"/><circle cx="1119.4" cy="507.5" r="1.250" fill="#111"/>
<path d="M1134.8 509.4l-.6 3.600" stroke="#111" stroke-width="1.300"/><circle cx="1134.5" cy="513.4" r="1.250" fill="#111"/>
<path d="M1149.9 515.3l-.6 3.600" stroke="#111" stroke-width="1.300"/><circle cx="1149.6" cy="519.3" r="1.250" fill="#111"/>
<path d="M1165.0 521.1l-.6 3.600" stroke="#111" stroke-width="1.300"/><circle cx="1164.7" cy="525.1" r="1.250" fill="#111"/>
<path d="M1180.1 527.0l-.6 3.600" stroke="#111" stroke-width="1.300"/><circle cx="1179.8" cy="531.0" r="1.250" fill="#111"/>
<path d="M1195.2 532.9l-.6 3.600" stroke="#111" stroke-width="1.300"/><circle cx="1194.9" cy="536.9" r="1.250" fill="#111"/>
<path d="M1122.0 508.8L1123.9 520.2" stroke="#4e4e5c" stroke-width="1.100"/>
<path d="M1137.1 514.7L1139.0 525.9" stroke="#4e4e5c" stroke-width="1.100"/>
<path d="M1152.2 520.6L1154.1 531.6" stroke="#4e4e5c" stroke-width="1.100"/>
<path d="M1167.3 526.4L1169.2 537.3" stroke="#4e4e5c" stroke-width="1.100"/>
<path d="M1182.4 532.3L1184.3 543.1" stroke="#4e4e5c" stroke-width="1.100"/>
<path d="M1197.5 538.2L1199.4 548.8" stroke="#4e4e5c" stroke-width="1.100"/>
<g filter="url(#hb)" opacity=".8">
<use href="#p2h" x="1117.5" y="518.7"/>
<use href="#p2h" x="1132.6" y="524.4"/>
<use href="#p2h" x="1147.7" y="530.1"/>
<use href="#p2h" x="1162.8" y="535.8"/>
<use href="#p2h" x="1177.9" y="541.6"/>
<use href="#p2h" x="1193.0" y="547.3"/>
</g>
<use href="#p2" x="1117.5" y="518.7"/>
<use href="#p2" x="1132.6" y="524.4"/>
<use href="#p2" x="1147.7" y="530.1"/>
<use href="#p2" x="1162.8" y="535.8"/>
<use href="#p2" x="1177.9" y="541.6"/>
<use href="#p2" x="1193.0" y="547.3"/>
</g>
<g id="rack-b">
<path d="M1244.4 287.2L1246.3 299.7" stroke="#4e4e5c" stroke-width="1.100"/>
<path d="M1259.5 293.0L1261.4 305.4" stroke="#4e4e5c" stroke-width="1.100"/>
<path d="M1274.6 298.9L1276.5 311.2" stroke="#4e4e5c" stroke-width="1.100"/>
<path d="M1289.7 304.8L1291.6 316.9" stroke="#4e4e5c" stroke-width="1.100"/>
<path d="M1304.8 310.7L1306.7 322.6" stroke="#4e4e5c" stroke-width="1.100"/>
<path d="M1319.9 316.6L1321.8 328.3" stroke="#4e4e5c" stroke-width="1.100"/>
<g filter="url(#hb)" opacity=".8">
<use href="#p2h" x="1239.9" y="298.2"/>
<use href="#p2h" x="1255.0" y="303.9"/>
<use href="#p2h" x="1270.1" y="309.7"/>
<use href="#p2h" x="1285.2" y="315.4"/>
<use href="#p2h" x="1300.3" y="321.1"/>
<use href="#p2h" x="1315.4" y="326.8"/>
</g>
<use href="#p2" x="1239.9" y="298.2"/>
<use href="#p2" x="1255.0" y="303.9"/>
<use href="#p2" x="1270.1" y="309.7"/>
<use href="#p2" x="1285.2" y="315.4"/>
<use href="#p2" x="1300.3" y="321.1"/>
<use href="#p2" x="1315.4" y="326.8"/>
<path d="M1244.4 376.5L1246.3 389.0" stroke="#4e4e5c" stroke-width="1.100"/>
<path d="M1259.5 382.3L1261.4 394.7" stroke="#4e4e5c" stroke-width="1.100"/>
<path d="M1274.6 388.2L1276.5 400.5" stroke="#4e4e5c" stroke-width="1.100"/>
<path d="M1289.7 394.1L1291.6 406.2" stroke="#4e4e5c" stroke-width="1.100"/>
<path d="M1304.8 400.0L1306.7 411.9" stroke="#4e4e5c" stroke-width="1.100"/>
<path d="M1319.9 405.9L1321.8 417.6" stroke="#4e4e5c" stroke-width="1.100"/>
<g filter="url(#hb)" opacity=".8">
<use href="#p2h" x="1239.9" y="387.5"/>
<use href="#p2h" x="1255.0" y="393.2"/>
<use href="#p2h" x="1270.1" y="399.0"/>
<use href="#p2h" x="1285.2" y="404.7"/>
<use href="#p2h" x="1300.3" y="410.4"/>
<use href="#p2h" x="1315.4" y="416.1"/>
</g>
<use href="#p2" x="1239.9" y="387.5"/>
<use href="#p2" x="1255.0" y="393.2"/>
<use href="#p2" x="1270.1" y="399.0"/>
<use href="#p2" x="1285.2" y="404.7"/>
<use href="#p2" x="1300.3" y="410.4"/>
<use href="#p2" x="1315.4" y="416.1"/>
<path d="M1244.4 465.8L1246.3 478.3" stroke="#4e4e5c" stroke-width="1.100"/>
<path d="M1259.5 471.6L1261.4 484.0" stroke="#4e4e5c" stroke-width="1.100"/>
<path d="M1274.6 477.5L1276.5 489.8" stroke="#4e4e5c" stroke-width="1.100"/>
<path d="M1289.7 483.4L1291.6 495.5" stroke="#4e4e5c" stroke-width="1.100"/>
<path d="M1304.8 489.3L1306.7 501.2" stroke="#4e4e5c" stroke-width="1.100"/>
<path d="M1319.9 495.2L1321.8 506.9" stroke="#4e4e5c" stroke-width="1.100"/>
<g filter="url(#hb)" opacity=".8">
<use href="#p2h" x="1239.9" y="476.8"/>
<use href="#p2h" x="1255.0" y="482.5"/>
<use href="#p2h" x="1270.1" y="488.3"/>
<use href="#p2h" x="1285.2" y="494.0"/>
<use href="#p2h" x="1300.3" y="499.7"/>
<use href="#p2h" x="1315.4" y="505.4"/>
</g>
<use href="#p2" x="1239.9" y="476.8"/>
<use href="#p2" x="1255.0" y="482.5"/>
<use href="#p2" x="1270.1" y="488.3"/>
<use href="#p2" x="1285.2" y="494.0"/>
<use href="#p2" x="1300.3" y="499.7"/>
<use href="#p2" x="1315.4" y="505.4"/>
<path d="M1244.4 555.1L1246.3 567.6" stroke="#4e4e5c" stroke-width="1.100"/>
<path d="M1259.5 560.9L1261.4 573.3" stroke="#4e4e5c" stroke-width="1.100"/>
<path d="M1274.6 566.8L1276.5 579.1" stroke="#4e4e5c" stroke-width="1.100"/>
<path d="M1289.7 572.7L1291.6 584.8" stroke="#4e4e5c" stroke-width="1.100"/>
<path d="M1304.8 578.6L1306.7 590.5" stroke="#4e4e5c" stroke-width="1.100"/>
<path d="M1319.9 584.5L1321.8 596.2" stroke="#4e4e5c" stroke-width="1.100"/>
<g filter="url(#hb)" opacity=".8">
<use href="#p2h" x="1239.9" y="566.1"/>
<use href="#p2h" x="1255.0" y="571.8"/>
<use href="#p2h" x="1270.1" y="577.6"/>
<use href="#p2h" x="1285.2" y="583.3"/>
<use href="#p2h" x="1300.3" y="589.0"/>
<use href="#p2h" x="1315.4" y="594.7"/>
</g>
<use href="#p2" x="1239.9" y="566.1"/>
<use href="#p2" x="1255.0" y="571.8"/>
<use href="#p2" x="1270.1" y="577.6"/>
<use href="#p2" x="1285.2" y="583.3"/>
<use href="#p2" x="1300.3" y="589.0"/>
<use href="#p2" x="1315.4" y="594.7"/>
<path d="M1244.4 644.4L1246.3 656.9" stroke="#4e4e5c" stroke-width="1.100"/>
<path d="M1259.5 650.2L1261.4 662.6" stroke="#4e4e5c" stroke-width="1.100"/>
<path d="M1274.6 656.1L1276.5 668.4" stroke="#4e4e5c" stroke-width="1.100"/>
<path d="M1289.7 662.0L1291.6 674.1" stroke="#4e4e5c" stroke-width="1.100"/>
<path d="M1304.8 667.9L1306.7 679.8" stroke="#4e4e5c" stroke-width="1.100"/>
<path d="M1319.9 673.8L1321.8 685.5" stroke="#4e4e5c" stroke-width="1.100"/>
<g filter="url(#hb)" opacity=".8">
<use href="#p2h" x="1239.9" y="655.4"/>
<use href="#p2h" x="1255.0" y="661.1"/>
<use href="#p2h" x="1270.1" y="666.9"/>
<use href="#p2h" x="1285.2" y="672.6"/>
<use href="#p2h" x="1300.3" y="678.3"/>
<use href="#p2h" x="1315.4" y="684.0"/>
</g>
<use href="#p2" x="1239.9" y="655.4"/>
<use href="#p2" x="1255.0" y="661.1"/>
<use href="#p2" x="1270.1" y="666.9"/>
<use href="#p2" x="1285.2" y="672.6"/>
<use href="#p2" x="1300.3" y="678.3"/>
<use href="#p2" x="1315.4" y="684.0"/>
<path d="M1337.3 760.0999999999999V242.4q0 -3.600 2.800 -2.600l4.600 5" fill="none" stroke="#5c5c5c" stroke-width="4.200" stroke-linecap="round" stroke-linejoin="round"/>
<path d="M1337.3 760.0999999999999V242.4q0 -3.600 2.800 -2.600l4.600 5" fill="none" stroke="#ededed" stroke-width="2.700" stroke-linecap="round" stroke-linejoin="round"/>
<rect x="1334.4" y="324.9" width="5.800" height="17.500" rx=".8" fill="#f8f8f8" stroke="#6a6a6a" stroke-width=".7"/>
<rect x="1334.4" y="414.2" width="5.800" height="17.500" rx=".8" fill="#f8f8f8" stroke="#6a6a6a" stroke-width=".7"/>
<rect x="1334.4" y="503.5" width="5.800" height="17.500" rx=".8" fill="#f8f8f8" stroke="#6a6a6a" stroke-width=".7"/>
<rect x="1334.4" y="592.8" width="5.800" height="17.500" rx=".8" fill="#f8f8f8" stroke="#6a6a6a" stroke-width=".7"/>
<rect x="1334.4" y="682.1" width="5.800" height="17.500" rx=".8" fill="#f8f8f8" stroke="#6a6a6a" stroke-width=".7"/>
<path d="M1231.3 278.1L1431.3 356.1v5L1231.3 283.1Z" fill="#fbfbfb" stroke="#3c3c3c" stroke-width=".8"/>
<path d="M1231.3 279.4L1431.3 357.4" stroke="#b4b4b4" stroke-width="1.900"/>
<use href="#cap" transform="translate(1431.3 358.6) rotate(21.3)"/>
<use href="#cap" transform="translate(1231.3 280.6) rotate(21.3) scale(-.5 1)"/>
<path d="M1242.1 281.9l-.6 3.600" stroke="#111" stroke-width="1.300"/><circle cx="1241.8" cy="285.9" r="1.250" fill="#111"/>
<path d="M1257.2 287.7l-.6 3.600" stroke="#111" stroke-width="1.300"/><circle cx="1256.9" cy="291.7" r="1.250" fill="#111"/>
<path d="M1272.3 293.6l-.6 3.600" stroke="#111" stroke-width="1.300"/><circle cx="1272.0" cy="297.6" r="1.250" fill="#111"/>
<path d="M1287.4 299.5l-.6 3.600" stroke="#111" stroke-width="1.300"/><circle cx="1287.1" cy="303.5" r="1.250" fill="#111"/>
<path d="M1302.5 305.4l-.6 3.600" stroke="#111" stroke-width="1.300"/><circle cx="1302.2" cy="309.4" r="1.250" fill="#111"/>
<path d="M1317.6 311.3l-.6 3.600" stroke="#111" stroke-width="1.300"/><circle cx="1317.3" cy="315.3" r="1.250" fill="#111"/>
<path d="M1347.8 323.1l-.6 3.600" stroke="#111" stroke-width="1.300"/><circle cx="1347.5" cy="327.1" r="1.250" fill="#111"/>
<path d="M1362.9 329.0l-.6 3.600" stroke="#111" stroke-width="1.300"/><circle cx="1362.6" cy="333.0" r="1.250" fill="#111"/>
<path d="M1378.0 334.9l-.6 3.600" stroke="#111" stroke-width="1.300"/><circle cx="1377.7" cy="338.9" r="1.250" fill="#111"/>
<path d="M1393.1 340.7l-.6 3.600" stroke="#111" stroke-width="1.300"/><circle cx="1392.8" cy="344.7" r="1.250" fill="#111"/>
<path d="M1408.2 346.6l-.6 3.600" stroke="#111" stroke-width="1.300"/><circle cx="1407.9" cy="350.6" r="1.250" fill="#111"/>
<path d="M1423.3 352.5l-.6 3.600" stroke="#111" stroke-width="1.300"/><circle cx="1423.0" cy="356.5" r="1.250" fill="#111"/>
<path d="M1350.1 328.4L1352.0 339.8" stroke="#4e4e5c" stroke-width="1.100"/>
<path d="M1365.2 334.3L1367.1 345.5" stroke="#4e4e5c" stroke-width="1.100"/>
<path d="M1380.3 340.2L1382.2 351.2" stroke="#4e4e5c" stroke-width="1.100"/>
<path d="M1395.4 346.0L1397.3 356.9" stroke="#4e4e5c" stroke-width="1.100"/>
<path d="M1410.5 351.9L1412.4 362.7" stroke="#4e4e5c" stroke-width="1.100"/>
<path d="M1425.6 357.8L1427.5 368.4" stroke="#4e4e5c" stroke-width="1.100"/>
<g filter="url(#hb)" opacity=".8">
<use href="#p2h" x="1345.6" y="338.3"/>
<use href="#p2h" x="1360.7" y="344.0"/>
<use href="#p2h" x="1375.8" y="349.7"/>
<use href="#p2h" x="1390.9" y="355.4"/>
<use href="#p2h" x="1406.0" y="361.2"/>
<use href="#p2h" x="1421.1" y="366.9"/>
</g>
<use href="#p2" x="1345.6" y="338.3"/>
<use href="#p2" x="1360.7" y="344.0"/>
<use href="#p2" x="1375.8" y="349.7"/>
<use href="#p2" x="1390.9" y="355.4"/>
<use href="#p2" x="1406.0" y="361.2"/>
<use href="#p2" x="1421.1" y="366.9"/>
<path d="M1231.3 367.4L1431.3 445.4v5L1231.3 372.4Z" fill="#fbfbfb" stroke="#3c3c3c" stroke-width=".8"/>
<path d="M1231.3 368.7L1431.3 446.7" stroke="#b4b4b4" stroke-width="1.900"/>
<use href="#cap" transform="translate(1431.3 447.9) rotate(21.3)"/>
<use href="#cap" transform="translate(1231.3 369.9) rotate(21.3) scale(-.5 1)"/>
<path d="M1242.1 371.2l-.6 3.600" stroke="#111" stroke-width="1.300"/><circle cx="1241.8" cy="375.2" r="1.250" fill="#111"/>
<path d="M1257.2 377.0l-.6 3.600" stroke="#111" stroke-width="1.300"/><circle cx="1256.9" cy="381.0" r="1.250" fill="#111"/>
<path d="M1272.3 382.9l-.6 3.600" stroke="#111" stroke-width="1.300"/><circle cx="1272.0" cy="386.9" r="1.250" fill="#111"/>
<path d="M1287.4 388.8l-.6 3.600" stroke="#111" stroke-width="1.300"/><circle cx="1287.1" cy="392.8" r="1.250" fill="#111"/>
<path d="M1302.5 394.7l-.6 3.600" stroke="#111" stroke-width="1.300"/><circle cx="1302.2" cy="398.7" r="1.250" fill="#111"/>
<path d="M1317.6 400.6l-.6 3.600" stroke="#111" stroke-width="1.300"/><circle cx="1317.3" cy="404.6" r="1.250" fill="#111"/>
<path d="M1347.8 412.4l-.6 3.600" stroke="#111" stroke-width="1.300"/><circle cx="1347.5" cy="416.4" r="1.250" fill="#111"/>
<path d="M1362.9 418.3l-.6 3.600" stroke="#111" stroke-width="1.300"/><circle cx="1362.6" cy="422.3" r="1.250" fill="#111"/>
<path d="M1378.0 424.2l-.6 3.600" stroke="#111" stroke-width="1.300"/><circle cx="1377.7" cy="428.2" r="1.250" fill="#111"/>
<path d="M1393.1 430.0l-.6 3.600" stroke="#111" stroke-width="1.300"/><circle cx="1392.8" cy="434.0" r="1.250" fill="#111"/>
<path d="M1408.2 435.9l-.6 3.600" stroke="#111" stroke-width="1.300"/><circle cx="1407.9" cy="439.9" r="1.250" fill="#111"/>
<path d="M1423.3 441.8l-.6 3.600" stroke="#111" stroke-width="1.300"/><circle cx="1423.0" cy="445.8" r="1.250" fill="#111"/>
<path d="M1350.1 417.7L1352.0 429.1" stroke="#4e4e5c" stroke-width="1.100"/>
<path d="M1365.2 423.6L1367.1 434.8" stroke="#4e4e5c" stroke-width="1.100"/>
<path d="M1380.3 429.5L1382.2 440.5" stroke="#4e4e5c" stroke-width="1.100"/>
<path d="M1395.4 435.3L1397.3 446.2" stroke="#4e4e5c" stroke-width="1.100"/>
<path d="M1410.5 441.2L1412.4 452.0" stroke="#4e4e5c" stroke-width="1.100"/>
<path d="M1425.6 447.1L1427.5 457.7" stroke="#4e4e5c" stroke-width="1.100"/>
<g filter="url(#hb)" opacity=".8">
<use href="#p2h" x="1345.6" y="427.6"/>
<use href="#p2h" x="1360.7" y="433.3"/>
<use href="#p2h" x="1375.8" y="439.0"/>
<use href="#p2h" x="1390.9" y="444.7"/>
<use href="#p2h" x="1406.0" y="450.5"/>
<use href="#p2h" x="1421.1" y="456.2"/>
</g>
<use href="#p2" x="1345.6" y="427.6"/>
<use href="#p2" x="1360.7" y="433.3"/>
<use href="#p2" x="1375.8" y="439.0"/>
<use href="#p2" x="1390.9" y="444.7"/>
<use href="#p2" x="1406.0" y="450.5"/>
<use href="#p2" x="1421.1" y="456.2"/>
<path d="M1231.3 456.7L1431.3 534.7v5L1231.3 461.7Z" fill="#fbfbfb" stroke="#3c3c3c" stroke-width=".8"/>
<path d="M1231.3 458.0L1431.3 536.0" stroke="#b4b4b4" stroke-width="1.900"/>
<use href="#cap" transform="translate(1431.3 537.2) rotate(21.3)"/>
<use href="#cap" transform="translate(1231.3 459.2) rotate(21.3) scale(-.5 1)"/>
<path d="M1242.1 460.5l-.6 3.600" stroke="#111" stroke-width="1.300"/><circle cx="1241.8" cy="464.5" r="1.250" fill="#111"/>
<path d="M1257.2 466.3l-.6 3.600" stroke="#111" stroke-width="1.300"/><circle cx="1256.9" cy="470.3" r="1.250" fill="#111"/>
<path d="M1272.3 472.2l-.6 3.600" stroke="#111" stroke-width="1.300"/><circle cx="1272.0" cy="476.2" r="1.250" fill="#111"/>
<path d="M1287.4 478.1l-.6 3.600" stroke="#111" stroke-width="1.300"/><circle cx="1287.1" cy="482.1" r="1.250" fill="#111"/>
<path d="M1302.5 484.0l-.6 3.600" stroke="#111" stroke-width="1.300"/><circle cx="1302.2" cy="488.0" r="1.250" fill="#111"/>
<path d="M1317.6 489.9l-.6 3.600" stroke="#111" stroke-width="1.300"/><circle cx="1317.3" cy="493.9" r="1.250" fill="#111"/>
<path d="M1347.8 501.7l-.6 3.600" stroke="#111" stroke-width="1.300"/><circle cx="1347.5" cy="505.7" r="1.250" fill="#111"/>
<path d="M1362.9 507.6l-.6 3.600" stroke="#111" stroke-width="1.300"/><circle cx="1362.6" cy="511.6" r="1.250" fill="#111"/>
<path d="M1378.0 513.5l-.6 3.600" stroke="#111" stroke-width="1.300"/><circle cx="1377.7" cy="517.5" r="1.250" fill="#111"/>
<path d="M1393.1 519.3l-.6 3.600" stroke="#111" stroke-width="1.300"/><circle cx="1392.8" cy="523.3" r="1.250" fill="#111"/>
<path d="M1408.2 525.2l-.6 3.600" stroke="#111" stroke-width="1.300"/><circle cx="1407.9" cy="529.2" r="1.250" fill="#111"/>
<path d="M1423.3 531.1l-.6 3.600" stroke="#111" stroke-width="1.300"/><circle cx="1423.0" cy="535.1" r="1.250" fill="#111"/>
<path d="M1350.1 507.0L1352.0 518.4" stroke="#4e4e5c" stroke-width="1.100"/>
<path d="M1365.2 512.9L1367.1 524.1" stroke="#4e4e5c" stroke-width="1.100"/>
<path d="M1380.3 518.8L1382.2 529.8" stroke="#4e4e5c" stroke-width="1.100"/>
<path d="M1395.4 524.6L1397.3 535.5" stroke="#4e4e5c" stroke-width="1.100"/>
<path d="M1410.5 530.5L1412.4 541.3" stroke="#4e4e5c" stroke-width="1.100"/>
<path d="M1425.6 536.4L1427.5 547.0" stroke="#4e4e5c" stroke-width="1.100"/>
<g filter="url(#hb)" opacity=".8">
<use href="#p2h" x="1345.6" y="516.9"/>
<use href="#p2h" x="1360.7" y="522.6"/>
<use href="#p2h" x="1375.8" y="528.3"/>
<use href="#p2h" x="1390.9" y="534.0"/>
<use href="#p2h" x="1406.0" y="539.8"/>
<use href="#p2h" x="1421.1" y="545.5"/>
</g>
<use href="#p2" x="1345.6" y="516.9"/>
<use href="#p2" x="1360.7" y="522.6"/>
<use href="#p2" x="1375.8" y="528.3"/>
<use href="#p2" x="1390.9" y="534.0"/>
<use href="#p2" x="1406.0" y="539.8"/>
<use href="#p2" x="1421.1" y="545.5"/>
<path d="M1231.3 546.0L1431.3 624.0v5L1231.3 551.0Z" fill="#fbfbfb" stroke="#3c3c3c" stroke-width=".8"/>
<path d="M1231.3 547.3L1431.3 625.3" stroke="#b4b4b4" stroke-width="1.900"/>
<use href="#cap" transform="translate(1431.3 626.5) rotate(21.3)"/>
<use href="#cap" transform="translate(1231.3 548.5) rotate(21.3) scale(-.5 1)"/>
<path d="M1242.1 549.8l-.6 3.600" stroke="#111" stroke-width="1.300"/><circle cx="1241.8" cy="553.8" r="1.250" fill="#111"/>
<path d="M1257.2 555.6l-.6 3.600" stroke="#111" stroke-width="1.300"/><circle cx="1256.9" cy="559.6" r="1.250" fill="#111"/>
<path d="M1272.3 561.5l-.6 3.600" stroke="#111" stroke-width="1.300"/><circle cx="1272.0" cy="565.5" r="1.250" fill="#111"/>
<path d="M1287.4 567.4l-.6 3.600" stroke="#111" stroke-width="1.300"/><circle cx="1287.1" cy="571.4" r="1.250" fill="#111"/>
<path d="M1302.5 573.3l-.6 3.600" stroke="#111" stroke-width="1.300"/><circle cx="1302.2" cy="577.3" r="1.250" fill="#111"/>
<path d="M1317.6 579.2l-.6 3.600" stroke="#111" stroke-width="1.300"/><circle cx="1317.3" cy="583.2" r="1.250" fill="#111"/>
<path d="M1347.8 591.0l-.6 3.600" stroke="#111" stroke-width="1.300"/><circle cx="1347.5" cy="595.0" r="1.250" fill="#111"/>
<path d="M1362.9 596.9l-.6 3.600" stroke="#111" stroke-width="1.300"/><circle cx="1362.6" cy="600.9" r="1.250" fill="#111"/>
<path d="M1378.0 602.8l-.6 3.600" stroke="#111" stroke-width="1.300"/><circle cx="1377.7" cy="606.8" r="1.250" fill="#111"/>
<path d="M1393.1 608.6l-.6 3.600" stroke="#111" stroke-width="1.300"/><circle cx="1392.8" cy="612.6" r="1.250" fill="#111"/>
<path d="M1408.2 614.5l-.6 3.600" stroke="#111" stroke-width="1.300"/><circle cx="1407.9" cy="618.5" r="1.250" fill="#111"/>
<path d="M1423.3 620.4l-.6 3.600" stroke="#111" stroke-width="1.300"/><circle cx="1423.0" cy="624.4" r="1.250" fill="#111"/>
<path d="M1350.1 596.3L1352.0 607.7" stroke="#4e4e5c" stroke-width="1.100"/>
<path d="M1365.2 602.2L1367.1 613.4" stroke="#4e4e5c" stroke-width="1.100"/>
<path d="M1380.3 608.1L1382.2 619.1" stroke="#4e4e5c" stroke-width="1.100"/>
<path d="M1395.4 613.9L1397.3 624.8" stroke="#4e4e5c" stroke-width="1.100"/>
<path d="M1410.5 619.8L1412.4 630.6" stroke="#4e4e5c" stroke-width="1.100"/>
<path d="M1425.6 625.7L1427.5 636.3" stroke="#4e4e5c" stroke-width="1.100"/>
<g filter="url(#hb)" opacity=".8">
<use href="#p2h" x="1345.6" y="606.2"/>
<use href="#p2h" x="1360.7" y="611.9"/>
<use href="#p2h" x="1375.8" y="617.6"/>
<use href="#p2h" x="1390.9" y="623.3"/>
<use href="#p2h" x="1406.0" y="629.1"/>
<use href="#p2h" x="1421.1" y="634.8"/>
</g>
<use href="#p2" x="1345.6" y="606.2"/>
<use href="#p2" x="1360.7" y="611.9"/>
<use href="#p2" x="1375.8" y="617.6"/>
<use href="#p2" x="1390.9" y="623.3"/>
<use href="#p2" x="1406.0" y="629.1"/>
<use href="#p2" x="1421.1" y="634.8"/>
<path d="M1231.3 635.3L1431.3 713.3v5L1231.3 640.3Z" fill="#fbfbfb" stroke="#3c3c3c" stroke-width=".8"/>
<path d="M1231.3 636.6L1431.3 714.6" stroke="#b4b4b4" stroke-width="1.900"/>
<use href="#cap" transform="translate(1431.3 715.8) rotate(21.3)"/>
<use href="#cap" transform="translate(1231.3 637.8) rotate(21.3) scale(-.5 1)"/>
<path d="M1242.1 639.1l-.6 3.600" stroke="#111" stroke-width="1.300"/><circle cx="1241.8" cy="643.1" r="1.250" fill="#111"/>
<path d="M1257.2 644.9l-.6 3.600" stroke="#111" stroke-width="1.300"/><circle cx="1256.9" cy="648.9" r="1.250" fill="#111"/>
<path d="M1272.3 650.8l-.6 3.600" stroke="#111" stroke-width="1.300"/><circle cx="1272.0" cy="654.8" r="1.250" fill="#111"/>
<path d="M1287.4 656.7l-.6 3.600" stroke="#111" stroke-width="1.300"/><circle cx="1287.1" cy="660.7" r="1.250" fill="#111"/>
<path d="M1302.5 662.6l-.6 3.600" stroke="#111" stroke-width="1.300"/><circle cx="1302.2" cy="666.6" r="1.250" fill="#111"/>
<path d="M1317.6 668.5l-.6 3.600" stroke="#111" stroke-width="1.300"/><circle cx="1317.3" cy="672.5" r="1.250" fill="#111"/>
<path d="M1347.8 680.3l-.6 3.600" stroke="#111" stroke-width="1.300"/><circle cx="1347.5" cy="684.3" r="1.250" fill="#111"/>
<path d="M1362.9 686.2l-.6 3.600" stroke="#111" stroke-width="1.300"/><circle cx="1362.6" cy="690.2" r="1.250" fill="#111"/>
<path d="M1378.0 692.1l-.6 3.600" stroke="#111" stroke-width="1.300"/><circle cx="1377.7" cy="696.1" r="1.250" fill="#111"/>
<path d="M1393.1 697.9l-.6 3.600" stroke="#111" stroke-width="1.300"/><circle cx="1392.8" cy="701.9" r="1.250" fill="#111"/>
<path d="M1408.2 703.8l-.6 3.600" stroke="#111" stroke-width="1.300"/><circle cx="1407.9" cy="707.8" r="1.250" fill="#111"/>
<path d="M1423.3 709.7l-.6 3.600" stroke="#111" stroke-width="1.300"/><circle cx="1423.0" cy="713.7" r="1.250" fill="#111"/>
<path d="M1350.1 685.6L1352.0 697.0" stroke="#4e4e5c" stroke-width="1.100"/>
<path d="M1365.2 691.5L1367.1 702.7" stroke="#4e4e5c" stroke-width="1.100"/>
<path d="M1380.3 697.4L1382.2 708.4" stroke="#4e4e5c" stroke-width="1.100"/>
<path d="M1395.4 703.2L1397.3 714.1" stroke="#4e4e5c" stroke-width="1.100"/>
<path d="M1410.5 709.1L1412.4 719.9" stroke="#4e4e5c" stroke-width="1.100"/>
<path d="M1425.6 715.0L1427.5 725.6" stroke="#4e4e5c" stroke-width="1.100"/>
<g filter="url(#hb)" opacity=".8">
<use href="#p2h" x="1345.6" y="695.5"/>
<use href="#p2h" x="1360.7" y="701.2"/>
<use href="#p2h" x="1375.8" y="706.9"/>
<use href="#p2h" x="1390.9" y="712.6"/>
<use href="#p2h" x="1406.0" y="718.4"/>
<use href="#p2h" x="1421.1" y="724.1"/>
</g>
<use href="#p2" x="1345.6" y="695.5"/>
<use href="#p2" x="1360.7" y="701.2"/>
<use href="#p2" x="1375.8" y="706.9"/>
<use href="#p2" x="1390.9" y="712.6"/>
<use href="#p2" x="1406.0" y="718.4"/>
<use href="#p2" x="1421.1" y="724.1"/>
</g>
<g id="pie-standard">
<circle cx="379.2" cy="557.9" r="206" fill="#fff"/>
<path d="M379.20 367.90A190 190 0 0 1 523.68 434.50L379.20 557.90A0 0 0 0 0 379.20 557.90Z" fill="#00879a" />
<path d="M523.68 434.50A190 190 0 0 1 491.68 711.03L379.20 557.90A0 0 0 0 0 379.20 557.90Z" fill="#004527" />
<path d="M491.68 711.03A190 190 0 0 1 450.38 734.06L379.20 557.90A0 0 0 0 0 379.20 557.90Z" fill="#009a3b" />
<path d="M450.38 734.06A190 190 0 0 1 198.40 499.50L379.20 557.90A0 0 0 0 0 379.20 557.90Z" fill="#b19d58" />
<path d="M198.40 499.50A190 190 0 0 1 321.43 376.89L379.20 557.90A0 0 0 0 0 379.20 557.90Z" fill="#642671" />
<path d="M321.43 376.89A190 190 0 0 1 379.20 367.90L379.20 557.90A0 0 0 0 0 379.20 557.90Z" fill="#8b1410" />
<path d="M379.2 557.9L379.20 366.90M379.2 557.9L524.44 433.86M379.2 557.9L492.27 711.83M379.2 557.9L450.75 734.99M379.2 557.9L197.45 499.19M379.2 557.9L321.13 375.94" stroke="#fff" stroke-width="3.2" fill="none"/>
<circle cx="379.2" cy="557.9" r="58.4" fill="#fff"/>
</g>
<path id="arrow-big" d="M692 466.900L787.400 561.800L692 656.700Z" fill="#ffde00"/>
<g id="pie-hqc">
<circle cx="1013.5" cy="545.7" r="201.6" fill="#fff"/>
<path d="M1036.52 727.95A183.7 183.7 0 0 1 1013.50 729.40L1013.50 545.70A0 0 0 0 0 1013.50 545.70Z" fill="#00879a" />
<path d="M1013.50 729.40A183.7 183.7 0 0 1 969.06 723.94L1013.50 545.70A0 0 0 0 0 1013.50 545.70Z" fill="#004527" />
<path d="M969.06 723.94A183.7 183.7 0 0 1 957.34 720.61L1013.50 545.70A0 0 0 0 0 1013.50 545.70Z" fill="#009a3b" />
<path d="M957.34 720.61A183.7 183.7 0 0 1 842.94 613.92L1013.50 545.70A0 0 0 0 0 1013.50 545.70Z" fill="#b19d58" />
<path d="M842.94 613.92A183.7 183.7 0 0 1 857.71 448.35L1013.50 545.70A0 0 0 0 0 1013.50 545.70Z" fill="#642671" />
<path d="M857.71 448.35A183.7 183.7 0 0 1 1013.50 362.00L1013.50 545.70A0 0 0 0 0 1013.50 545.70Z" fill="#8b1410" />
<path d="M1013.5 545.7L1013.50 730.70M1013.5 545.7L968.74 725.20M1013.5 545.7L956.95 721.84M1013.5 545.7L841.73 614.40M1013.5 545.7L856.61 447.66M1013.5 545.7L1013.50 360.70" stroke="#fff" stroke-width="3.2" fill="none"/>
<circle cx="1013.5" cy="545.7" r="58" fill="#fff"/>
<path d="M1041.36 343.20A202 202 0 0 1 1065.97 745.56L1048.31 607.69A63 63 0 0 0 1040.63 482.20Z" fill="#ffde00" stroke="#fff" stroke-width="34" stroke-linejoin="miter" paint-order="stroke"/>
</g>
<g id="icon-bulb" transform="translate(84 82.4)">
<path d="M-11.200 17.300C-18.500 13 -22.150 6.500 -22.150 0A22.150 22.150 0 1 1 22.150 0C22.150 6.500 18.500 13 11.200 17.300L10.200 30H-10.200Z" fill="none" stroke="#000" stroke-width="5.700" stroke-linejoin="round"/>
<path d="M-13 28.500h26v10q0 3.800 -4.300 4.300q-2 6.900 -8.700 6.900t-8.700 -6.900q-4.300 -.5 -4.300 -4.300z" fill="#000"/>
<path d="M-9 33l18 -2.600M-9 36.500l18 -2.800M-9 40l18 -2.800" stroke="#ececec" stroke-width="1.600" fill="none"/>
<path d="M-4.800 44.300q4.800 3 9.600 0" stroke="#ececec" stroke-width="1.100" fill="none"/>
<text x="0" y="13.800" text-anchor="middle" font-family="Liberation Sans, sans-serif" font-weight="700" font-size="38.500" stroke="#000" stroke-width="1.100" transform="translate(0 .6) scale(.88 1)">$</text>
</g>
</svg>
<header>
<div id="bar"></div>
<span class="t h1 b" style="left:122.02px;top:65.00px;font-size:37px;-webkit-text-stroke:0.8px #000;transform:scaleX(0.9599)">RISPARMIO INTELLIGENTE</span>
<span class="t sub r" style="left:601.15px;top:73.00px;font-size:29.2px;-webkit-text-stroke:0.3px #000;transform:scaleX(0.7259)">/ GANCIO STANDARD vs HQC</span>
</header>
<span class="t big b" style="left:1127.76px;top:510.00px;font-size:43.5px;-webkit-text-stroke:0.6px #000;transform:scaleX(0.8221)">48%</span>
<span class="t big2 b" style="left:1078.05px;top:559.00px;font-size:30px;transform:scaleX(0.8199)">RISPARMIATO</span>
<section id="col-standard" class="col">
<span class="t h2 b" style="left:177.25px;top:782.00px;font-size:31.2px;-webkit-text-stroke:1.0px #000;transform:scaleX(0.9757)">GANCIO STANDARD</span>
<span class="t h3 r" style="left:176.90px;top:833.00px;font-size:31.5px;-webkit-text-stroke:0.4px #000;transform:scaleX(0.8916)">PARAMETRI DI PROCESSO</span>
<div class="pbox" style="left:177px;top:875px;width:559.4px;height:241.4px"></div>
<span class="t lb b" style="left:190.99px;top:886.00px;font-size:22px;-webkit-text-stroke:0.25px #000;transform:scaleX(0.8646)">Velocità di linea</span>
<span class="t lb b" style="left:189.90px;top:926.00px;font-size:22px;-webkit-text-stroke:0.25px #000;transform:scaleX(0.8325)">Punti di appensione per metro di trasportatore</span>
<span class="t lb b" style="left:190.34px;top:966.00px;font-size:22px;-webkit-text-stroke:0.25px #000;transform:scaleX(0.8726)">Costo linea rivestimento in polvere</span>
<span class="t lb b" style="left:190.36px;top:1006.00px;font-size:22px;-webkit-text-stroke:0.25px #000;transform:scaleX(0.8508)">Costo per punto di appensione</span>
<span class="t lb b" style="left:190.35px;top:1046.00px;font-size:22px;-webkit-text-stroke:0.25px #000;transform:scaleX(0.8559)">Costo polvere</span>
<span class="t lb b" style="left:190.35px;top:1083.00px;font-size:22px;-webkit-text-stroke:0.25px #000;transform:scaleX(0.8633)">Costi fuori linea (pre-appensione/scarico)</span>
<span class="t vl r" style="left:658.72px;top:886.00px;font-size:22px;-webkit-text-stroke:0.3px #000;transform:scaleX(0.9311)">2 m/min</span>
<span class="t vl r" style="left:646.68px;top:926.00px;font-size:22px;-webkit-text-stroke:0.3px #000;transform:scaleX(0.8782)">14,8 pz/m</span>
<span class="t vl r" style="left:666.47px;top:966.00px;font-size:22px;-webkit-text-stroke:0.3px #000;transform:scaleX(0.8861)">215 €/h</span>
<span class="t vl r" style="left:640.89px;top:1006.00px;font-size:22px;-webkit-text-stroke:0.3px #000;transform:scaleX(0.8790)">0,007 €/pz</span>
<span class="t vl r" style="left:640.89px;top:1046.00px;font-size:22px;-webkit-text-stroke:0.3px #000;transform:scaleX(0.8790)">0,022 €/pz</span>
<svg class="arr" style="left:412.9px;top:1120px" width="72" height="64" viewBox="0 0 72 64"><path d="M26.850 1.100h18.300v22.800h26.200l-35.350 38.300l-35.350 -38.300h26.200z" fill="#8e8e8e"/></svg>
<span class="t h3 r" style="left:177.19px;top:1186.00px;font-size:31.5px;-webkit-text-stroke:0.4px #000;transform:scaleX(0.8818)">COSTO DI RIVESTIMENTO</span>
<div class="ln" style="left:177px;top:1226.8px;width:561.5px"></div>
<div class="row" style="left:177px;top:1227.6px;width:561.5px;height:40px;background:#efefef"><i style="background:#00879a;width:64.4px"></i></div>
<span class="t pc r" style="left:196.91px;top:1238.00px;font-size:21px;color:#fff;-webkit-text-stroke:0.45px #fff;transform:scaleX(0.8248)">13 %</span>
<span class="t lb b" style="left:252.96px;top:1238.00px;font-size:22px;-webkit-text-stroke:0.25px #000;transform:scaleX(0.8488)">Costo fisso di linea</span>
<span class="t vl r" style="left:643.69px;top:1238.00px;font-size:22px;-webkit-text-stroke:0.3px #000;transform:scaleX(0.8800)">0,020 €/pz</span>
<div class="row" style="left:177px;top:1267.6px;width:561.5px;height:40px;background:#d9d9d9"><i style="background:#004527;width:64.4px"></i></div>
<span class="t pc r" style="left:195.32px;top:1278.00px;font-size:21px;color:#fff;-webkit-text-stroke:0.45px #fff;transform:scaleX(0.8585)">26 %</span>
<span class="t lb b" style="left:252.46px;top:1278.00px;font-size:22px;-webkit-text-stroke:0.25px #000;transform:scaleX(0.8586)">Energia</span>
<span class="t vl r" style="left:643.69px;top:1278.00px;font-size:22px;-webkit-text-stroke:0.3px #000;transform:scaleX(0.8800)">0,039 €/pz</span>
<div class="row" style="left:177px;top:1307.6px;width:561.5px;height:40px;background:#efefef"><i style="background:#009a3b;width:64.4px"></i></div>
<span class="t pc r" style="left:206.53px;top:1318.00px;font-size:21px;color:#fff;-webkit-text-stroke:0.45px #fff;transform:scaleX(0.8252)">5 %</span>
<span class="t lb b" style="left:252.94px;top:1318.00px;font-size:22px;-webkit-text-stroke:0.25px #000;transform:scaleX(0.8697)">Costo variabile di linea</span>
<span class="t vl r" style="left:643.69px;top:1318.00px;font-size:22px;-webkit-text-stroke:0.3px #000;transform:scaleX(0.8800)">0,008 €/pz</span>
<div class="row" style="left:177px;top:1347.6px;width:561.5px;height:40px;background:#d9d9d9"><i style="background:#b19d58;width:64.4px"></i></div>
<span class="t pc r" style="left:195.54px;top:1358.00px;font-size:21px;color:#fff;-webkit-text-stroke:0.45px #fff;transform:scaleX(0.8537)">36 %</span>
<span class="t lb b" style="left:252.94px;top:1358.00px;font-size:22px;-webkit-text-stroke:0.25px #000;transform:scaleX(0.8677)">Operai</span>
<span class="t vl r" style="left:643.69px;top:1358.00px;font-size:22px;-webkit-text-stroke:0.3px #000;transform:scaleX(0.8800)">0,054 €/pz</span>
<div class="row" style="left:177px;top:1387.6px;width:561.5px;height:40px;background:#efefef"><i style="background:#642671;width:64.4px"></i></div>
<span class="t pc r" style="left:196.91px;top:1398.00px;font-size:21px;color:#fff;-webkit-text-stroke:0.45px #fff;transform:scaleX(0.8248)">15 %</span>
<span class="t lb b" style="left:252.42px;top:1398.00px;font-size:22px;-webkit-text-stroke:0.25px #000;transform:scaleX(0.8845)">Polvere</span>
<span class="t vl r" style="left:643.69px;top:1398.00px;font-size:22px;-webkit-text-stroke:0.3px #000;transform:scaleX(0.8800)">0,022 €/pz</span>
<div class="row" style="left:177px;top:1427.6px;width:561.5px;height:40px;background:#d9d9d9"><i style="background:#8b1410;width:64.4px;border-bottom:1.6px solid #5e0d09"></i></div>
<span class="t pc r" style="left:206.53px;top:1438.00px;font-size:21px;color:#fff;-webkit-text-stroke:0.45px #fff;transform:scaleX(0.8252)">5 %</span>
<span class="t lb b" style="left:252.98px;top:1434.00px;font-size:22px;-webkit-text-stroke:0.25px #000;transform:scaleX(0.8271)">Costo punto di appensione</span>
<span class="t vl r" style="left:643.69px;top:1438.00px;font-size:22px;-webkit-text-stroke:0.3px #000;transform:scaleX(0.8800)">0,007 €/pz</span>
<div class="ln" style="left:241.4px;top:1467.4px;width:497.1px"></div>
<div class="ln" style="left:177px;top:1507.4px;width:561.5px"></div>
<span class="t vl r" style="left:184.79px;top:1479.00px;font-size:22px;-webkit-text-stroke:0.3px #000;transform:scaleX(0.8119)">100%</span>
<span class="t lb b" style="left:245.52px;top:1479.00px;font-size:22px;-webkit-text-stroke:0.25px #000;transform:scaleX(0.8368)">TOTALE COSTI DI RIVESTIMENTO</span>
<span class="t vl r" style="left:646.22px;top:1479.00px;font-size:22px;-webkit-text-stroke:0.3px #000;transform:scaleX(0.8552)">0,150 €/pz</span>
</section>
<section id="col-hqc" class="col">
<span class="t h2 b" style="left:818.78px;top:782.00px;font-size:31.2px;-webkit-text-stroke:1.0px #000;transform:scaleX(0.9191)">HQC</span>
<span class="t h3 r" style="left:818.40px;top:833.00px;font-size:31.5px;-webkit-text-stroke:0.4px #000;transform:scaleX(0.8916)">PARAMETRI DI PROCESSO</span>
<div class="pbox" style="left:818.5px;top:875px;width:559.4px;height:241.4px"></div>
<span class="t lb b" style="left:832.49px;top:886.00px;font-size:22px;-webkit-text-stroke:0.25px #000;transform:scaleX(0.8646)">Velocità di linea</span>
<span class="t lb b" style="left:831.40px;top:926.00px;font-size:22px;-webkit-text-stroke:0.25px #000;transform:scaleX(0.8325)">Punti di appensione per metro di trasportatore</span>
<span class="t lb b" style="left:831.84px;top:966.00px;font-size:22px;-webkit-text-stroke:0.25px #000;transform:scaleX(0.8726)">Costo linea rivestimento in polvere</span>
<span class="t lb b" style="left:831.86px;top:1006.00px;font-size:22px;-webkit-text-stroke:0.25px #000;transform:scaleX(0.8508)">Costo per punto di appensione</span>
<span class="t lb b" style="left:831.85px;top:1046.00px;font-size:22px;-webkit-text-stroke:0.25px #000;transform:scaleX(0.8559)">Costo polvere</span>
<span class="t lb b" style="left:831.85px;top:1083.00px;font-size:22px;-webkit-text-stroke:0.25px #000;transform:scaleX(0.8633)">Costi fuori linea (pre-appensione/scarico)</span>
<span class="t vl r" style="left:1300.62px;top:886.00px;font-size:22px;-webkit-text-stroke:0.3px #000;transform:scaleX(0.9311)">2 m/min</span>
<span class="t vl r" style="left:1301.57px;top:926.00px;font-size:22px;-webkit-text-stroke:0.3px #000;transform:scaleX(0.9188)">86 pz/m</span>
<span class="t vl r" style="left:1308.37px;top:966.00px;font-size:22px;-webkit-text-stroke:0.3px #000;transform:scaleX(0.8861)">215 €/h</span>
<span class="t vl r" style="left:1282.79px;top:1006.00px;font-size:22px;-webkit-text-stroke:0.3px #000;transform:scaleX(0.8790)">0,024 €/pz</span>
<span class="t vl r" style="left:1282.79px;top:1046.00px;font-size:22px;-webkit-text-stroke:0.3px #000;transform:scaleX(0.8790)">0,022 €/pz</span>
<span class="t vl r" style="left:1285.22px;top:1086.00px;font-size:22px;-webkit-text-stroke:0.3px #000;transform:scaleX(0.8552)">0,011 €/pz</span>
<svg class="arr" style="left:1051.7px;top:1120px" width="72" height="64" viewBox="0 0 72 64"><path d="M26.850 1.100h18.300v22.800h26.200l-35.350 38.300l-35.350 -38.300h26.200z" fill="#8e8e8e"/></svg>
<span class="t h3 r" style="left:818.69px;top:1186.00px;font-size:31.5px;-webkit-text-stroke:0.4px #000;transform:scaleX(0.8818)">COSTO DI RIVESTIMENTO</span>
<div class="ln" style="left:818.5px;top:1226.8px;width:559.4px"></div>
<div class="row" style="left:818.5px;top:1227.6px;width:559.4px;height:40px;background:#efefef"><i style="background:#00879a;width:62.8px"></i></div>
<span class="t pc r" style="left:845.45px;top:1238.00px;font-size:21px;color:#fff;-webkit-text-stroke:0.45px #fff;transform:scaleX(0.8304)">2 %</span>
<span class="t lb b" style="left:895.26px;top:1238.00px;font-size:22px;-webkit-text-stroke:0.25px #000;transform:scaleX(0.8488)">Costo fisso di linea</span>
<span class="t vl r" style="left:1283.79px;top:1238.00px;font-size:22px;-webkit-text-stroke:0.3px #000;transform:scaleX(0.8800)">0,003 €/pz</span>
<div class="row" style="left:818.5px;top:1267.6px;width:559.4px;height:40px;background:#d9d9d9"><i style="background:#004527;width:62.8px"></i></div>
<span class="t pc r" style="left:844.92px;top:1278.00px;font-size:21px;color:#fff;-webkit-text-stroke:0.45px #fff;transform:scaleX(0.8453)">4 %</span>
<span class="t lb b" style="left:894.76px;top:1278.00px;font-size:22px;-webkit-text-stroke:0.25px #000;transform:scaleX(0.8586)">Energia</span>
<span class="t vl r" style="left:1283.79px;top:1278.00px;font-size:22px;-webkit-text-stroke:0.3px #000;transform:scaleX(0.8800)">0,007 €/pz</span>
<div class="row" style="left:818.5px;top:1307.6px;width:559.4px;height:40px;background:#efefef"><i style="background:#009a3b;width:62.8px"></i></div>
<span class="t pc r" style="left:847.07px;top:1318.00px;font-size:21px;color:#fff;-webkit-text-stroke:0.45px #fff;transform:scaleX(0.7846)">1 %</span>
<span class="t lb b" style="left:895.24px;top:1318.00px;font-size:22px;-webkit-text-stroke:0.25px #000;transform:scaleX(0.8697)">Costo variabile di linea</span>
<span class="t vl r" style="left:1284.80px;top:1318.00px;font-size:22px;-webkit-text-stroke:0.3px #000;transform:scaleX(0.8701)">0,001 €/pz</span>
<div class="row" style="left:818.5px;top:1347.6px;width:559.4px;height:40px;background:#d9d9d9"><i style="background:#b19d58;width:62.8px"></i></div>
<span class="t pc r" style="left:835.49px;top:1358.00px;font-size:21px;color:#fff;-webkit-text-stroke:0.45px #fff;transform:scaleX(0.8358)">14 %</span>
<span class="t lb b" style="left:895.24px;top:1358.00px;font-size:22px;-webkit-text-stroke:0.25px #000;transform:scaleX(0.8677)">Operai</span>
<span class="t vl r" style="left:1283.79px;top:1358.00px;font-size:22px;-webkit-text-stroke:0.3px #000;transform:scaleX(0.8800)">0,020 €/pz</span>
<div class="row" style="left:818.5px;top:1387.6px;width:559.4px;height:40px;background:#efefef"><i style="background:#642671;width:62.8px"></i></div>
<span class="t pc r" style="left:836.01px;top:1398.00px;font-size:21px;color:#fff;-webkit-text-stroke:0.45px #fff;transform:scaleX(0.8248)">15 %</span>
<span class="t lb b" style="left:894.72px;top:1398.00px;font-size:22px;-webkit-text-stroke:0.25px #000;transform:scaleX(0.8845)">Polvere</span>
<span class="t vl r" style="left:1283.79px;top:1398.00px;font-size:22px;-webkit-text-stroke:0.3px #000;transform:scaleX(0.8800)">0,023 €/pz</span>
<div class="row" style="left:818.5px;top:1427.6px;width:559.4px;height:40px;background:#d9d9d9"><i style="background:#8b1410;width:62.8px;border-bottom:1.6px solid #5e0d09"></i></div>
<span class="t pc r" style="left:836.01px;top:1438.00px;font-size:21px;color:#fff;-webkit-text-stroke:0.45px #fff;transform:scaleX(0.8248)">16 %</span>
<span class="t lb b" style="left:895.28px;top:1434.00px;font-size:22px;-webkit-text-stroke:0.25px #000;transform:scaleX(0.8271)">Costo punto di appensione</span>
<span class="t vl r" style="left:1283.79px;top:1438.00px;font-size:22px;-webkit-text-stroke:0.3px #000;transform:scaleX(0.8800)">0,024 €/pz</span>
<div class="ln" style="left:881.3px;top:1467.4px;width:496.59999999999997px"></div>
<div class="ln" style="left:818.5px;top:1507.4px;width:559.4px"></div>
<span class="t lb b" style="left:838.91px;top:1479.00px;font-size:22px;transform:scaleX(0.8764)">52%</span>
<span class="t lb b" style="left:887.02px;top:1479.00px;font-size:22px;-webkit-text-stroke:0.25px #000;transform:scaleX(0.8368)">TOTALE COSTI DI RIVESTIMENTO</span>
<span class="t vl r" style="left:1283.79px;top:1479.00px;font-size:22px;-webkit-text-stroke:0.3px #000;transform:scaleX(0.8800)">0,078 €/pz</span>
<div class="sv" style="left:818.5px;top:1508.8px;width:559.4px;height:39.4px"></div>
<span class="t lb b" style="left:838.21px;top:1519.00px;font-size:22px;transform:scaleX(0.8625)">48% RISPARMIATO</span>
<span class="t vl r" style="left:1283.79px;top:1519.00px;font-size:22px;-webkit-text-stroke:0.3px #000;transform:scaleX(0.8800)">0,072 €/pz</span>
</section>
</body></html>
